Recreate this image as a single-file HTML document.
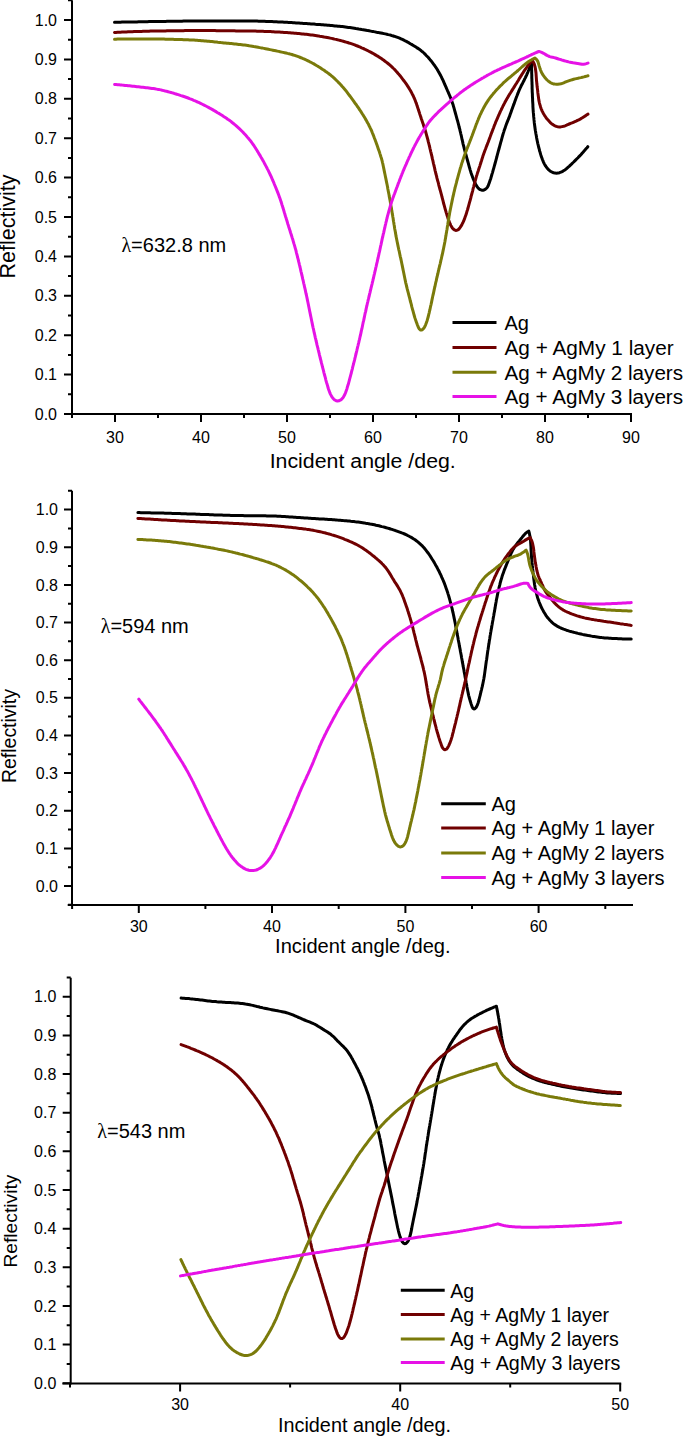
<!DOCTYPE html>
<html><head><meta charset="utf-8"><title>Reflectivity</title>
<style>
html,body{margin:0;padding:0;background:#fff;}
body{width:685px;height:1437px;overflow:hidden;}
svg{display:block;}
text{font-family:"Liberation Sans", sans-serif;fill:#000;}
</style></head>
<body>
<svg width="685" height="1437" viewBox="0 0 685 1437" font-family='"Liberation Sans", sans-serif'>
<rect width="685" height="1437" fill="#fff"/>
<path d="M72,0.3 V415" stroke="#000" stroke-width="2" fill="none"/>
<path d="M64,414 H632" stroke="#000" stroke-width="2" fill="none"/>
<path d="M64,414 H72 M68,394.3 H72 M64,374.6 H72 M68,354.9 H72 M64,335.2 H72 M68,315.5 H72 M64,295.8 H72 M68,276.1 H72 M64,256.4 H72 M68,236.7 H72 M64,217 H72 M68,197.3 H72 M64,177.6 H72 M68,157.9 H72 M64,138.2 H72 M68,118.5 H72 M64,98.8 H72 M68,79.1 H72 M64,59.4 H72 M68,39.7 H72 M64,20 H72 M68,0.3 H72 M115,414 V422 M201,414 V422 M287,414 V422 M373,414 V422 M459,414 V422 M545,414 V422 M631,414 V422 M72,414 V418 M158,414 V418 M244,414 V418 M330,414 V418 M416,414 V418 M502,414 V418 M588,414 V418" stroke="#000" stroke-width="2" fill="none"/>
<g font-size="16"><text x="57" y="419.6" text-anchor="end">0.0</text><text x="57" y="380.2" text-anchor="end">0.1</text><text x="57" y="340.8" text-anchor="end">0.2</text><text x="57" y="301.4" text-anchor="end">0.3</text><text x="57" y="262" text-anchor="end">0.4</text><text x="57" y="222.6" text-anchor="end">0.5</text><text x="57" y="183.2" text-anchor="end">0.6</text><text x="57" y="143.8" text-anchor="end">0.7</text><text x="57" y="104.4" text-anchor="end">0.8</text><text x="57" y="65" text-anchor="end">0.9</text><text x="57" y="25.6" text-anchor="end">1.0</text><text x="115" y="443.3" text-anchor="middle">30</text><text x="201" y="443.3" text-anchor="middle">40</text><text x="287" y="443.3" text-anchor="middle">50</text><text x="373" y="443.3" text-anchor="middle">60</text><text x="459" y="443.3" text-anchor="middle">70</text><text x="545" y="443.3" text-anchor="middle">80</text><text x="631" y="443.3" text-anchor="middle">90</text></g>
<text x="269.7" y="467.5" font-size="20" textLength="186.1" lengthAdjust="spacingAndGlyphs">Incident angle /deg.</text>
<text x="121.4" y="251.7" font-size="20"><tspan font-family="Liberation Serif, serif">λ</tspan>=632.8 nm</text>
<text transform="translate(14.9,226.5) rotate(-90)" x="0" y="0" font-size="21.5" text-anchor="middle" textLength="104" lengthAdjust="spacingAndGlyphs">Reflectivity</text>
<path d="M114.5,22.3L116.0,22.3L117.5,22.2L119.0,22.2L120.5,22.2L122.0,22.1L123.5,22.1L125.0,22.1L126.5,22.1L128.0,22.0L129.5,22.0L131.0,22.0L132.5,21.9L134.0,21.9L135.5,21.9L137.0,21.9L138.5,21.8L140.0,21.8L141.5,21.8L143.0,21.7L144.5,21.7L146.0,21.7L147.5,21.7L149.0,21.6L150.5,21.6L152.0,21.6L153.5,21.6L155.0,21.5L156.5,21.5L158.0,21.5L159.5,21.5L161.0,21.4L162.5,21.4L164.0,21.4L165.5,21.4L167.0,21.3L168.5,21.3L170.0,21.3L171.5,21.3L173.0,21.3L174.5,21.2L176.0,21.2L177.5,21.2L179.0,21.2L180.5,21.2L182.0,21.2L183.5,21.1L185.0,21.1L186.5,21.1L188.0,21.1L189.5,21.1L191.0,21.1L192.5,21.1L194.0,21.0L195.5,21.0L197.0,21.0L198.5,21.0L200.0,21.0L201.5,21.0L203.0,21.0L204.5,21.0L206.0,21.0L207.5,21.0L209.0,20.9L210.5,20.9L212.0,20.9L213.5,20.9L215.0,20.9L216.5,20.9L218.0,20.9L219.5,20.9L221.0,20.9L222.5,20.9L224.0,20.9L225.5,20.9L227.0,20.9L228.5,20.9L230.0,20.9L231.5,20.9L233.1,20.9L234.6,20.9L236.1,20.9L237.6,20.9L239.1,20.9L240.6,20.9L242.1,20.9L243.6,20.9L245.1,21.0L246.6,21.0L248.1,21.0L249.6,21.0L251.1,21.0L252.6,21.0L254.1,21.1L255.6,21.1L257.1,21.1L258.6,21.2L260.1,21.2L261.6,21.2L263.1,21.3L264.6,21.3L266.1,21.4L267.6,21.4L269.1,21.5L270.6,21.5L272.1,21.6L273.6,21.7L275.1,21.7L276.6,21.8L278.1,21.9L279.6,21.9L281.1,22.0L282.6,22.1L284.1,22.2L285.6,22.2L287.1,22.3L288.5,22.4L290.0,22.5L291.5,22.6L293.0,22.7L294.5,22.8L296.0,22.9L297.5,23.0L299.0,23.1L300.5,23.2L302.0,23.3L303.5,23.4L305.0,23.5L306.5,23.6L308.0,23.7L309.5,23.8L311.0,23.9L312.5,24.0L314.0,24.1L315.5,24.3L317.0,24.4L318.5,24.5L320.0,24.6L321.5,24.7L323.0,24.8L324.5,25.0L326.0,25.1L327.5,25.2L329.0,25.3L330.5,25.5L332.0,25.6L333.4,25.7L334.9,25.9L336.4,26.0L337.9,26.2L339.4,26.3L340.9,26.5L342.4,26.6L343.9,26.8L345.4,27.0L346.9,27.2L348.4,27.4L349.9,27.6L351.3,27.8L352.8,28.0L354.3,28.2L355.8,28.5L357.3,28.7L358.7,29.0L360.2,29.2L361.7,29.5L363.2,29.7L364.7,30.0L366.1,30.3L367.6,30.6L369.1,30.8L370.6,31.1L372.0,31.4L373.5,31.6L375.0,31.9L376.5,32.2L377.9,32.4L379.4,32.7L380.9,33.0L382.4,33.3L383.8,33.6L385.3,33.9L386.8,34.2L388.2,34.6L389.7,34.9L391.1,35.3L392.6,35.8L394.0,36.2L395.4,36.7L396.8,37.2L398.3,37.7L399.6,38.2L401.0,38.8L402.4,39.4L403.8,40.1L405.1,40.8L406.4,41.4L407.7,42.2L409.1,42.9L410.3,43.7L411.6,44.4L412.9,45.2L414.2,46.0L415.5,46.8L416.7,47.6L418.0,48.4L419.3,49.2L420.5,50.1L421.6,51.1L422.8,52.0L423.9,53.0L425.0,54.1L426.0,55.2L427.0,56.2L428.1,57.3L429.1,58.5L430.0,59.6L431.0,60.8L431.9,61.9L432.8,63.1L433.7,64.3L434.6,65.5L435.5,66.8L436.3,68.0L437.1,69.3L437.9,70.6L438.6,71.9L439.4,73.2L440.1,74.5L440.8,75.8L441.5,77.2L442.1,78.5L442.8,79.9L443.4,81.2L444.0,82.6L444.6,84.0L445.2,85.3L445.8,86.7L446.4,88.1L447.0,89.5L447.6,90.9L448.2,92.2L448.8,93.6L449.4,95.0L450.0,96.4L450.6,97.8L451.1,99.2L451.6,100.6L452.1,102.0L452.6,103.4L453.1,104.8L453.5,106.3L453.9,107.7L454.3,109.1L454.7,110.6L455.1,112.0L455.5,113.5L455.9,114.9L456.3,116.4L456.7,117.8L457.1,119.3L457.5,120.7L457.9,122.2L458.3,123.6L458.7,125.1L459.0,126.5L459.4,128.0L459.8,129.4L460.1,130.9L460.5,132.4L460.8,133.8L461.2,135.3L461.5,136.7L461.8,138.2L462.1,139.7L462.5,141.1L462.8,142.6L463.1,144.1L463.5,145.5L463.9,147.0L464.2,148.4L464.6,149.9L465.0,151.3L465.4,152.8L465.8,154.2L466.2,155.7L466.6,157.1L467.0,158.6L467.4,160.0L467.8,161.5L468.2,162.9L468.6,164.4L469.0,165.8L469.4,167.3L469.8,168.7L470.2,170.1L470.7,171.6L471.1,173.0L471.6,174.4L472.1,175.8L472.6,177.2L473.1,178.6L473.7,180.0L474.3,181.4L474.9,182.8L475.6,184.1L476.3,185.4L477.1,186.7L478.0,187.9L479.1,188.9L480.3,189.7L481.7,190.2L483.1,190.2L484.5,189.8L485.7,189.0L486.8,188.0L487.6,186.8L488.3,185.5L488.8,184.1L489.3,182.7L489.8,181.2L490.3,179.8L490.8,178.4L491.2,176.9L491.6,175.5L492.0,174.1L492.5,172.6L492.9,171.2L493.3,169.7L493.7,168.3L494.1,166.9L494.5,165.4L494.9,164.0L495.3,162.5L495.7,161.1L496.1,159.6L496.5,158.2L496.9,156.7L497.2,155.3L497.6,153.8L498.0,152.4L498.4,150.9L498.8,149.5L499.2,148.0L499.6,146.6L500.0,145.1L500.4,143.7L500.8,142.2L501.2,140.8L501.6,139.3L502.0,137.9L502.4,136.4L502.8,135.0L503.2,133.6L503.7,132.1L504.1,130.7L504.6,129.3L505.1,127.9L505.6,126.4L506.1,125.0L506.6,123.6L507.2,122.2L507.7,120.8L508.3,119.4L508.8,118.1L509.4,116.7L509.9,115.2L510.4,113.8L510.9,112.4L511.4,111.0L511.9,109.6L512.4,108.2L512.9,106.8L513.4,105.4L514.0,103.9L514.5,102.5L515.0,101.1L515.5,99.7L516.0,98.3L516.5,96.9L517.1,95.5L517.6,94.1L518.2,92.7L518.7,91.3L519.3,89.9L519.9,88.6L520.6,87.2L521.2,85.8L521.9,84.5L522.6,83.2L523.3,81.8L524.0,80.5L524.6,79.2L525.3,77.8L525.9,76.5L526.6,75.1L527.2,73.7L527.8,72.3L528.3,71.0L528.9,69.6L529.4,68.2L530.0,66.8L530.5,65.4L531.1,64.0L531.5,62.8L531.5,64.3L531.6,65.8L531.6,67.3L531.6,68.8L531.7,70.3L531.7,71.8L531.7,73.3L531.8,74.8L531.8,76.3L531.8,77.8L531.9,79.3L531.9,80.8L532.0,82.3L532.0,83.8L532.1,85.3L532.1,86.8L532.1,88.4L532.2,89.9L532.2,91.4L532.3,92.9L532.4,94.4L532.4,95.9L532.5,97.4L532.6,98.9L532.6,100.4L532.7,101.9L532.8,103.4L532.9,104.9L532.9,106.4L533.0,107.9L533.1,109.4L533.2,110.9L533.3,112.4L533.5,113.9L533.6,115.4L533.7,116.9L533.9,118.4L534.0,119.9L534.2,121.4L534.3,122.9L534.5,124.3L534.7,125.8L534.9,127.3L535.1,128.8L535.3,130.3L535.6,131.8L535.8,133.3L536.1,134.8L536.4,136.2L536.6,137.7L536.9,139.2L537.2,140.7L537.5,142.1L537.8,143.6L538.2,145.1L538.5,146.5L538.9,148.0L539.3,149.4L539.6,150.9L540.1,152.3L540.5,153.8L540.9,155.2L541.4,156.7L541.9,158.1L542.4,159.5L543.0,160.9L543.6,162.3L544.2,163.6L544.9,164.9L545.7,166.2L546.6,167.4L547.5,168.6L548.5,169.7L549.7,170.7L550.9,171.5L552.2,172.2L553.6,172.8L555.0,173.1L556.5,173.2L558.0,173.1L559.5,172.7L560.9,172.2L562.2,171.6L563.5,170.8L564.8,170.0L566.0,169.1L567.1,168.1L568.2,167.1L569.4,166.1L570.4,165.1L571.5,164.1L572.6,163.0L573.7,162.0L574.8,160.9L575.8,159.9L576.9,158.8L578.0,157.7L579.0,156.6L580.0,155.6L581.1,154.5L582.1,153.3L583.1,152.2L584.1,151.1L585.0,149.9L586.0,148.8L587.0,147.7L587.8,146.7" stroke="#000000" stroke-width="3.0" fill="none" stroke-linejoin="round" stroke-linecap="round"/>
<path d="M114.5,32.5L116.0,32.4L117.5,32.3L119.0,32.3L120.5,32.2L122.0,32.1L123.5,32.0L125.0,32.0L126.5,31.9L128.0,31.8L129.5,31.8L131.0,31.7L132.5,31.7L134.0,31.6L135.5,31.5L137.0,31.5L138.5,31.4L140.0,31.4L141.5,31.4L143.0,31.3L144.5,31.3L146.0,31.2L147.5,31.2L149.0,31.2L150.5,31.1L152.0,31.1L153.5,31.1L155.0,31.0L156.5,31.0L158.0,31.0L159.5,30.9L161.0,30.9L162.5,30.9L164.0,30.9L165.5,30.9L167.0,30.8L168.5,30.8L170.0,30.8L171.5,30.8L173.0,30.8L174.5,30.7L176.0,30.7L177.5,30.7L179.0,30.7L180.5,30.7L182.0,30.7L183.5,30.7L185.0,30.6L186.5,30.6L188.0,30.6L189.5,30.6L191.0,30.6L192.5,30.6L194.0,30.6L195.5,30.6L197.0,30.6L198.5,30.6L200.0,30.6L201.5,30.6L203.0,30.6L204.5,30.6L206.0,30.6L207.5,30.6L209.0,30.6L210.5,30.6L212.0,30.6L213.5,30.6L215.0,30.6L216.5,30.7L218.0,30.7L219.5,30.7L221.0,30.7L222.5,30.7L224.0,30.7L225.5,30.7L227.0,30.8L228.5,30.8L230.0,30.8L231.5,30.8L233.0,30.8L234.5,30.8L236.0,30.9L237.5,30.9L239.0,30.9L240.5,30.9L242.0,30.9L243.5,30.9L245.0,31.0L246.5,31.0L248.0,31.0L249.5,31.0L251.0,31.1L252.5,31.1L254.0,31.1L255.5,31.1L257.0,31.2L258.5,31.2L260.0,31.2L261.5,31.3L263.0,31.3L264.5,31.4L266.0,31.4L267.5,31.5L269.0,31.6L270.5,31.6L272.0,31.7L273.5,31.8L275.0,31.9L276.5,31.9L278.0,32.0L279.5,32.1L281.0,32.2L282.5,32.3L284.0,32.4L285.5,32.5L287.0,32.6L288.5,32.7L290.0,32.8L291.5,33.0L293.0,33.1L294.5,33.2L296.0,33.3L297.5,33.5L299.0,33.6L300.5,33.7L302.0,33.9L303.4,34.0L304.9,34.2L306.4,34.3L307.9,34.5L309.4,34.7L310.9,34.9L312.4,35.1L313.9,35.3L315.4,35.5L316.8,35.7L318.3,35.9L319.8,36.2L321.3,36.4L322.8,36.7L324.2,37.0L325.7,37.2L327.2,37.5L328.7,37.8L330.1,38.1L331.6,38.4L333.1,38.7L334.5,39.1L336.0,39.4L337.5,39.8L338.9,40.1L340.4,40.5L341.8,40.9L343.3,41.3L344.7,41.7L346.1,42.1L347.6,42.5L349.0,43.0L350.4,43.4L351.9,43.9L353.3,44.4L354.7,44.9L356.1,45.5L357.5,46.0L358.9,46.6L360.3,47.2L361.6,47.8L363.0,48.4L364.4,49.0L365.7,49.7L367.1,50.3L368.4,51.0L369.7,51.7L371.1,52.4L372.4,53.1L373.7,53.8L375.0,54.6L376.3,55.4L377.6,56.1L378.8,56.9L380.1,57.7L381.4,58.6L382.6,59.4L383.8,60.3L385.0,61.2L386.2,62.1L387.4,63.0L388.6,64.0L389.7,64.9L390.8,65.9L391.9,66.9L393.0,68.0L394.1,69.0L395.1,70.1L396.1,71.2L397.1,72.3L398.1,73.5L399.1,74.6L400.1,75.8L401.0,76.9L401.9,78.1L402.8,79.3L403.7,80.5L404.6,81.7L405.5,82.9L406.4,84.2L407.2,85.4L408.0,86.7L408.8,87.9L409.6,89.2L410.4,90.5L411.1,91.8L411.8,93.1L412.5,94.5L413.2,95.8L413.8,97.2L414.4,98.5L415.0,99.9L415.5,101.3L416.0,102.7L416.6,104.1L417.0,105.6L417.5,107.0L418.0,108.4L418.4,109.8L418.9,111.3L419.4,112.7L419.8,114.1L420.3,115.6L420.8,117.0L421.2,118.4L421.7,119.8L422.2,121.2L422.7,122.7L423.2,124.1L423.6,125.5L424.1,126.9L424.6,128.4L425.0,129.8L425.5,131.2L425.9,132.7L426.3,134.1L426.7,135.6L427.1,137.0L427.5,138.5L427.9,139.9L428.2,141.4L428.6,142.8L429.0,144.3L429.3,145.7L429.7,147.2L430.0,148.6L430.4,150.1L430.7,151.6L431.1,153.0L431.4,154.5L431.8,155.9L432.1,157.4L432.4,158.9L432.8,160.3L433.1,161.8L433.4,163.3L433.8,164.7L434.1,166.2L434.5,167.6L434.8,169.1L435.1,170.6L435.5,172.0L435.8,173.5L436.2,174.9L436.6,176.4L436.9,177.9L437.3,179.3L437.7,180.8L438.1,182.2L438.5,183.7L438.8,185.1L439.2,186.6L439.6,188.0L440.0,189.5L440.4,190.9L440.8,192.4L441.2,193.8L441.6,195.3L441.9,196.7L442.3,198.2L442.7,199.6L443.1,201.1L443.4,202.5L443.8,204.0L444.2,205.4L444.6,206.9L445.0,208.3L445.4,209.8L445.8,211.2L446.2,212.6L446.7,214.1L447.1,215.5L447.6,216.9L448.0,218.4L448.5,219.8L449.0,221.2L449.6,222.6L450.2,224.0L450.8,225.3L451.5,226.7L452.3,227.9L453.3,229.0L454.4,229.9L455.7,230.4L457.0,230.3L458.3,229.6L459.3,228.6L460.2,227.4L461.0,226.2L461.8,224.9L462.4,223.5L463.1,222.2L463.7,220.8L464.3,219.4L464.8,218.0L465.3,216.6L465.8,215.2L466.3,213.8L466.7,212.3L467.1,210.9L467.6,209.5L468.0,208.0L468.4,206.6L468.8,205.1L469.2,203.7L469.6,202.2L470.0,200.8L470.4,199.3L470.8,197.9L471.1,196.4L471.5,195.0L471.9,193.5L472.3,192.1L472.7,190.6L473.0,189.2L473.4,187.7L473.8,186.3L474.1,184.8L474.5,183.4L474.9,181.9L475.3,180.5L475.7,179.0L476.1,177.6L476.5,176.1L477.0,174.7L477.4,173.3L477.9,171.8L478.4,170.4L478.8,169.0L479.3,167.6L479.8,166.1L480.2,164.7L480.7,163.3L481.1,161.8L481.6,160.4L482.0,159.0L482.5,157.6L482.9,156.1L483.4,154.7L483.9,153.3L484.4,151.9L484.9,150.5L485.5,149.1L486.0,147.7L486.5,146.3L487.1,144.9L487.6,143.5L488.2,142.1L488.7,140.7L489.2,139.3L489.8,137.9L490.3,136.4L490.8,135.0L491.3,133.6L491.9,132.2L492.4,130.8L492.9,129.4L493.5,128.0L494.0,126.6L494.5,125.2L495.1,123.8L495.6,122.4L496.2,121.0L496.8,119.7L497.4,118.3L498.0,116.9L498.6,115.5L499.2,114.2L499.8,112.8L500.4,111.4L501.1,110.1L501.7,108.7L502.4,107.4L503.0,106.0L503.7,104.7L504.4,103.4L505.1,102.0L505.8,100.7L506.6,99.4L507.3,98.1L508.1,96.8L508.8,95.5L509.6,94.2L510.4,93.0L511.2,91.7L512.0,90.4L512.8,89.1L513.6,87.9L514.4,86.6L515.2,85.3L516.0,84.0L516.8,82.8L517.6,81.5L518.4,80.2L519.1,78.9L519.9,77.7L520.7,76.4L521.5,75.1L522.3,73.8L523.1,72.6L523.9,71.3L524.7,70.1L525.6,68.8L526.5,67.6L527.3,66.4L528.2,65.2L529.2,64.0L530.1,62.8L531.0,61.7L532.0,60.5L532.3,60.1L533.0,61.4L533.7,62.8L534.3,64.2L534.7,65.6L535.1,67.0L535.4,68.5L535.6,70.0L535.8,71.5L536.0,73.0L536.1,74.5L536.2,76.0L536.3,77.5L536.4,79.0L536.5,80.5L536.7,82.0L536.8,83.5L537.0,85.0L537.1,86.5L537.3,87.9L537.5,89.4L537.7,90.9L537.8,92.4L538.0,93.9L538.2,95.4L538.4,96.9L538.6,98.4L538.8,99.9L539.1,101.4L539.4,102.8L539.8,104.3L540.2,105.7L540.6,107.2L541.1,108.6L541.7,110.0L542.3,111.3L543.0,112.7L543.7,114.0L544.5,115.3L545.3,116.5L546.2,117.8L547.1,119.0L548.1,120.1L549.1,121.2L550.1,122.3L551.2,123.3L552.4,124.3L553.6,125.1L554.9,125.8L556.3,126.4L557.8,126.8L559.2,126.9L560.7,126.9L562.2,126.6L563.6,126.3L565.1,125.8L566.5,125.2L567.8,124.6L569.2,124.0L570.6,123.4L572.0,122.9L573.4,122.3L574.8,121.7L576.1,121.1L577.5,120.4L578.8,119.8L580.2,119.1L581.5,118.3L582.8,117.5L584.0,116.7L585.3,115.9L586.5,115.1L587.8,114.2L588.0,114.1" stroke="#700000" stroke-width="3.0" fill="none" stroke-linejoin="round" stroke-linecap="round"/>
<path d="M114.5,39.2L116.0,39.2L117.5,39.1L119.0,39.1L120.5,39.1L122.0,39.1L123.5,39.0L125.0,39.0L126.5,39.0L128.0,39.0L129.5,38.9L131.0,38.9L132.5,38.9L134.0,38.9L135.5,38.9L137.0,38.9L138.5,38.9L140.0,38.9L141.5,38.9L143.0,38.9L144.5,38.9L146.0,38.9L147.5,38.9L149.0,38.9L150.5,39.0L152.0,39.0L153.5,39.0L155.0,39.0L156.5,39.0L158.0,39.0L159.5,39.1L161.0,39.1L162.5,39.1L164.0,39.1L165.5,39.2L167.0,39.2L168.5,39.2L170.0,39.3L171.5,39.3L173.0,39.3L174.5,39.4L176.0,39.4L177.5,39.5L179.0,39.5L180.5,39.6L182.0,39.6L183.5,39.7L185.0,39.7L186.5,39.8L188.0,39.8L189.5,39.9L191.0,40.0L192.5,40.1L194.0,40.1L195.5,40.2L197.0,40.3L198.5,40.4L200.0,40.5L201.5,40.7L203.0,40.8L204.5,40.9L206.0,41.0L207.5,41.2L209.0,41.3L210.5,41.5L212.0,41.6L213.5,41.8L214.9,42.0L216.4,42.1L217.9,42.3L219.4,42.4L220.9,42.6L222.4,42.7L223.9,42.9L225.4,43.0L226.9,43.2L228.4,43.3L229.9,43.5L231.4,43.6L232.9,43.7L234.4,43.9L235.9,44.0L237.3,44.2L238.8,44.4L240.3,44.5L241.8,44.7L243.3,44.9L244.8,45.1L246.3,45.3L247.8,45.5L249.2,45.8L250.7,46.0L252.2,46.2L253.7,46.5L255.2,46.7L256.6,47.0L258.1,47.3L259.6,47.6L261.1,47.9L262.5,48.1L264.0,48.4L265.5,48.7L267.0,49.0L268.4,49.3L269.9,49.6L271.4,49.9L272.8,50.2L274.3,50.5L275.8,50.8L277.2,51.1L278.7,51.4L280.2,51.8L281.7,52.1L283.1,52.4L284.6,52.7L286.0,53.0L287.5,53.4L289.0,53.7L290.4,54.1L291.9,54.5L293.3,55.0L294.7,55.4L296.1,55.9L297.6,56.4L299.0,56.9L300.4,57.5L301.8,58.0L303.1,58.6L304.5,59.2L305.9,59.8L307.2,60.5L308.6,61.1L309.9,61.8L311.3,62.5L312.6,63.2L313.9,63.9L315.2,64.7L316.5,65.5L317.8,66.2L319.0,67.0L320.3,67.8L321.6,68.7L322.8,69.5L324.1,70.3L325.3,71.2L326.5,72.0L327.7,72.9L328.9,73.8L330.1,74.7L331.3,75.7L332.5,76.6L333.6,77.6L334.7,78.6L335.8,79.7L336.8,80.7L337.9,81.8L338.9,82.9L340.0,83.9L341.0,85.0L342.0,86.2L343.0,87.3L344.0,88.4L344.9,89.6L345.9,90.7L346.8,91.9L347.7,93.1L348.6,94.3L349.5,95.5L350.4,96.7L351.3,97.9L352.2,99.1L353.1,100.3L354.0,101.6L354.8,102.8L355.7,104.0L356.6,105.2L357.4,106.5L358.3,107.7L359.1,108.9L359.9,110.2L360.8,111.4L361.6,112.7L362.4,114.0L363.2,115.2L364.0,116.5L364.8,117.8L365.5,119.1L366.3,120.4L367.0,121.7L367.7,123.0L368.5,124.3L369.1,125.7L369.8,127.0L370.4,128.4L371.1,129.7L371.7,131.1L372.2,132.5L372.8,133.9L373.4,135.3L373.9,136.7L374.4,138.1L375.0,139.5L375.5,140.9L376.0,142.3L376.5,143.7L377.0,145.1L377.5,146.5L378.0,148.0L378.5,149.4L379.0,150.8L379.5,152.2L379.9,153.6L380.4,155.1L380.8,156.5L381.3,157.9L381.7,159.4L382.1,160.8L382.4,162.3L382.8,163.7L383.1,165.2L383.4,166.7L383.7,168.1L384.0,169.6L384.3,171.1L384.6,172.6L384.9,174.0L385.2,175.5L385.5,177.0L385.8,178.4L386.1,179.9L386.4,181.4L386.7,182.9L387.0,184.3L387.3,185.8L387.6,187.3L387.8,188.8L388.1,190.2L388.4,191.7L388.7,193.2L389.0,194.6L389.2,196.1L389.5,197.6L389.8,199.1L390.1,200.6L390.3,202.0L390.6,203.5L390.8,205.0L391.1,206.5L391.4,207.9L391.6,209.4L391.8,210.9L392.1,212.4L392.3,213.9L392.6,215.3L392.8,216.8L393.1,218.3L393.3,219.8L393.5,221.3L393.8,222.8L394.0,224.2L394.3,225.7L394.5,227.2L394.7,228.7L395.0,230.2L395.3,231.6L395.5,233.1L395.8,234.6L396.0,236.1L396.3,237.5L396.6,239.0L396.9,240.5L397.2,242.0L397.5,243.4L397.8,244.9L398.1,246.4L398.4,247.8L398.7,249.3L399.1,250.8L399.4,252.2L399.7,253.7L400.0,255.2L400.3,256.6L400.7,258.1L401.0,259.6L401.3,261.0L401.6,262.5L401.9,264.0L402.2,265.4L402.5,266.9L402.8,268.4L403.1,269.9L403.4,271.3L403.7,272.8L404.0,274.3L404.3,275.7L404.6,277.2L404.9,278.7L405.2,280.1L405.5,281.6L405.8,283.1L406.2,284.5L406.5,286.0L406.9,287.5L407.2,288.9L407.6,290.4L408.0,291.8L408.4,293.3L408.7,294.7L409.1,296.2L409.5,297.6L409.9,299.1L410.2,300.5L410.6,302.0L411.0,303.4L411.4,304.9L411.7,306.4L412.1,307.8L412.5,309.3L412.9,310.7L413.3,312.2L413.7,313.6L414.1,315.0L414.5,316.5L414.9,317.9L415.4,319.4L415.9,320.8L416.4,322.2L416.9,323.6L417.4,325.0L418.0,326.4L418.6,327.8L419.3,329.0L420.3,329.9L421.4,330.1L422.5,329.6L423.5,328.5L424.4,327.3L425.1,326.0L425.7,324.6L426.2,323.2L426.7,321.8L427.2,320.4L427.6,318.9L428.0,317.5L428.4,316.0L428.7,314.6L429.1,313.1L429.4,311.6L429.8,310.2L430.1,308.7L430.4,307.3L430.7,305.8L431.1,304.3L431.4,302.9L431.7,301.4L432.0,299.9L432.3,298.4L432.6,297.0L432.9,295.5L433.3,294.0L433.6,292.6L433.9,291.1L434.2,289.6L434.5,288.2L434.9,286.7L435.2,285.2L435.5,283.8L435.8,282.3L436.2,280.9L436.5,279.4L436.8,277.9L437.2,276.5L437.5,275.0L437.9,273.5L438.2,272.1L438.5,270.6L438.9,269.2L439.2,267.7L439.6,266.2L439.9,264.8L440.3,263.3L440.6,261.9L440.9,260.4L441.3,258.9L441.6,257.5L441.9,256.0L442.3,254.5L442.6,253.1L442.9,251.6L443.2,250.1L443.5,248.7L443.8,247.2L444.1,245.7L444.4,244.3L444.7,242.8L445.0,241.3L445.2,239.8L445.5,238.4L445.7,236.9L446.0,235.4L446.2,233.9L446.5,232.4L446.7,230.9L447.0,229.5L447.2,228.0L447.4,226.5L447.7,225.0L447.9,223.5L448.1,222.1L448.4,220.6L448.6,219.1L448.9,217.6L449.1,216.1L449.4,214.7L449.6,213.2L449.9,211.7L450.2,210.2L450.5,208.8L450.8,207.3L451.1,205.8L451.4,204.3L451.7,202.9L452.0,201.4L452.3,199.9L452.6,198.5L452.9,197.0L453.3,195.5L453.6,194.1L453.9,192.6L454.3,191.2L454.6,189.7L455.0,188.2L455.3,186.8L455.7,185.3L456.1,183.9L456.5,182.4L456.8,181.0L457.2,179.5L457.6,178.1L458.0,176.6L458.4,175.2L458.8,173.7L459.2,172.3L459.6,170.8L460.0,169.4L460.4,167.9L460.9,166.5L461.3,165.1L461.7,163.6L462.2,162.2L462.7,160.8L463.1,159.4L463.6,157.9L464.1,156.5L464.6,155.1L465.1,153.7L465.6,152.3L466.2,150.9L466.7,149.5L467.3,148.1L467.8,146.7L468.4,145.3L468.9,143.9L469.5,142.5L470.0,141.1L470.6,139.7L471.1,138.3L471.6,136.9L472.2,135.5L472.7,134.1L473.2,132.7L473.7,131.3L474.2,129.9L474.8,128.5L475.3,127.1L475.8,125.6L476.3,124.2L476.9,122.8L477.4,121.4L478.0,120.1L478.5,118.7L479.1,117.3L479.7,115.9L480.3,114.5L481.0,113.2L481.6,111.8L482.3,110.5L483.0,109.1L483.7,107.8L484.4,106.5L485.1,105.2L485.9,103.9L486.7,102.6L487.5,101.4L488.3,100.1L489.2,98.9L490.1,97.7L491.0,96.5L491.9,95.3L492.9,94.2L493.8,93.0L494.8,91.9L495.8,90.7L496.8,89.6L497.9,88.5L498.9,87.4L499.9,86.4L501.0,85.3L502.1,84.3L503.1,83.2L504.2,82.2L505.4,81.2L506.5,80.2L507.6,79.2L508.7,78.2L509.9,77.3L511.0,76.3L512.2,75.3L513.4,74.4L514.5,73.4L515.7,72.5L516.8,71.5L518.0,70.5L519.1,69.5L520.2,68.5L521.3,67.5L522.4,66.5L523.6,65.5L524.7,64.5L525.8,63.6L527.0,62.7L528.3,61.8L529.5,61.0L530.8,60.2L532.1,59.5L533.4,58.8L534.8,58.1L535.0,58.0L536.1,59.0L537.0,60.1L537.8,61.4L538.3,62.8L538.7,64.3L539.1,65.7L539.6,67.2L540.0,68.6L540.5,70.0L541.1,71.4L541.7,72.8L542.5,74.1L543.3,75.4L544.2,76.6L545.1,77.8L546.1,78.9L547.1,80.0L548.2,81.0L549.4,81.9L550.7,82.7L552.0,83.4L553.4,83.9L554.9,84.1L556.4,84.2L557.9,84.2L559.4,84.1L560.8,83.8L562.3,83.3L563.7,82.8L565.1,82.2L566.5,81.6L567.9,81.1L569.3,80.6L570.7,80.1L572.2,79.7L573.6,79.3L575.1,78.9L576.5,78.6L578.0,78.3L579.5,77.9L580.9,77.6L582.4,77.2L583.9,76.9L585.3,76.5L586.8,76.1L588.0,75.8" stroke="#7a7a0a" stroke-width="3.0" fill="none" stroke-linejoin="round" stroke-linecap="round"/>
<path d="M114.6,84.5L116.1,84.6L117.6,84.7L119.1,84.8L120.6,84.9L122.1,85.1L123.6,85.2L125.1,85.4L126.6,85.5L128.1,85.7L129.5,85.8L131.0,86.0L132.5,86.2L134.0,86.3L135.5,86.5L137.0,86.7L138.5,86.8L140.0,87.0L141.5,87.2L143.0,87.3L144.5,87.5L146.0,87.7L147.4,87.8L148.9,88.0L150.4,88.2L151.9,88.4L153.4,88.6L154.9,88.8L156.4,89.1L157.8,89.4L159.3,89.6L160.8,89.9L162.2,90.3L163.7,90.6L165.2,91.0L166.6,91.3L168.1,91.7L169.5,92.1L171.0,92.5L172.4,92.9L173.9,93.3L175.3,93.8L176.7,94.2L178.2,94.6L179.6,95.1L181.0,95.6L182.4,96.0L183.9,96.5L185.3,97.0L186.7,97.5L188.1,98.0L189.5,98.6L190.9,99.1L192.3,99.7L193.7,100.3L195.1,100.8L196.4,101.5L197.8,102.1L199.2,102.7L200.5,103.3L201.9,104.0L203.2,104.7L204.5,105.3L205.9,106.0L207.2,106.7L208.5,107.4L209.8,108.2L211.2,108.9L212.5,109.6L213.8,110.4L215.1,111.1L216.4,111.9L217.6,112.7L218.9,113.4L220.2,114.2L221.5,115.0L222.7,115.8L224.0,116.7L225.3,117.5L226.5,118.3L227.7,119.2L229.0,120.0L230.2,120.9L231.4,121.8L232.5,122.8L233.7,123.7L234.8,124.7L236.0,125.7L237.1,126.7L238.2,127.7L239.3,128.7L240.4,129.7L241.5,130.8L242.5,131.8L243.6,132.9L244.6,134.0L245.6,135.1L246.6,136.2L247.6,137.4L248.6,138.5L249.5,139.7L250.5,140.8L251.4,142.0L252.3,143.3L253.1,144.5L254.0,145.7L254.8,147.0L255.6,148.2L256.4,149.5L257.2,150.8L258.0,152.1L258.7,153.4L259.5,154.6L260.3,155.9L261.0,157.2L261.8,158.5L262.5,159.8L263.3,161.1L264.0,162.4L264.7,163.8L265.4,165.1L266.1,166.4L266.8,167.7L267.5,169.1L268.2,170.4L268.9,171.8L269.5,173.1L270.1,174.5L270.8,175.8L271.4,177.2L272.0,178.6L272.6,180.0L273.2,181.3L273.8,182.7L274.3,184.1L274.9,185.5L275.5,186.9L276.1,188.3L276.6,189.7L277.2,191.1L277.7,192.4L278.3,193.9L278.8,195.3L279.3,196.7L279.8,198.1L280.3,199.5L280.8,200.9L281.2,202.3L281.7,203.8L282.1,205.2L282.6,206.6L283.0,208.1L283.5,209.5L283.9,210.9L284.3,212.4L284.8,213.8L285.2,215.3L285.6,216.7L286.1,218.1L286.5,219.6L287.0,221.0L287.4,222.4L287.8,223.9L288.3,225.3L288.7,226.7L289.2,228.2L289.6,229.6L290.1,231.0L290.5,232.5L291.0,233.9L291.4,235.3L291.9,236.8L292.3,238.2L292.8,239.6L293.2,241.1L293.6,242.5L294.0,243.9L294.5,245.4L294.9,246.8L295.3,248.3L295.7,249.7L296.1,251.2L296.4,252.6L296.8,254.1L297.2,255.5L297.5,257.0L297.9,258.4L298.3,259.9L298.6,261.4L299.0,262.8L299.3,264.3L299.7,265.7L300.0,267.2L300.4,268.7L300.7,270.1L301.0,271.6L301.4,273.0L301.7,274.5L302.1,276.0L302.4,277.4L302.7,278.9L303.1,280.4L303.4,281.8L303.7,283.3L304.1,284.7L304.4,286.2L304.7,287.7L305.1,289.1L305.4,290.6L305.7,292.1L306.0,293.5L306.4,295.0L306.7,296.5L307.0,297.9L307.3,299.4L307.6,300.9L307.9,302.3L308.2,303.8L308.5,305.3L308.8,306.7L309.1,308.2L309.4,309.7L309.7,311.2L310.0,312.6L310.3,314.1L310.6,315.6L310.9,317.0L311.2,318.5L311.5,320.0L311.8,321.5L312.1,322.9L312.4,324.4L312.7,325.9L313.0,327.3L313.4,328.8L313.7,330.3L314.0,331.7L314.3,333.2L314.7,334.7L315.0,336.1L315.3,337.6L315.7,339.0L316.0,340.5L316.4,342.0L316.7,343.4L317.0,344.9L317.4,346.4L317.8,347.8L318.1,349.3L318.5,350.7L318.8,352.2L319.2,353.6L319.5,355.1L319.9,356.6L320.2,358.0L320.6,359.5L321.0,360.9L321.3,362.4L321.7,363.8L322.1,365.3L322.4,366.7L322.8,368.2L323.2,369.7L323.6,371.1L323.9,372.6L324.3,374.0L324.7,375.5L325.1,376.9L325.5,378.4L325.8,379.8L326.2,381.3L326.6,382.7L327.1,384.2L327.5,385.6L327.9,387.0L328.3,388.5L328.8,389.9L329.3,391.3L329.8,392.7L330.4,394.1L331.1,395.4L331.8,396.7L332.7,398.0L333.7,399.1L334.8,400.0L336.1,400.7L337.5,401.0L338.9,400.8L340.2,400.2L341.4,399.4L342.5,398.3L343.4,397.1L344.1,395.8L344.8,394.5L345.4,393.1L345.9,391.7L346.4,390.3L346.9,388.9L347.3,387.4L347.7,386.0L348.2,384.6L348.6,383.1L349.0,381.7L349.4,380.2L349.7,378.8L350.1,377.3L350.5,375.9L350.9,374.4L351.3,373.0L351.6,371.5L352.0,370.1L352.4,368.6L352.7,367.1L353.1,365.7L353.5,364.2L353.8,362.8L354.2,361.3L354.6,359.9L354.9,358.4L355.3,356.9L355.6,355.5L356.0,354.0L356.3,352.6L356.7,351.1L357.0,349.7L357.4,348.2L357.7,346.7L358.1,345.3L358.4,343.8L358.8,342.4L359.1,340.9L359.5,339.4L359.8,338.0L360.1,336.5L360.5,335.0L360.8,333.6L361.1,332.1L361.4,330.6L361.8,329.2L362.1,327.7L362.4,326.2L362.7,324.8L363.0,323.3L363.3,321.8L363.7,320.4L364.0,318.9L364.3,317.4L364.6,316.0L364.9,314.5L365.2,313.0L365.6,311.6L365.9,310.1L366.2,308.6L366.5,307.2L366.9,305.7L367.2,304.3L367.5,302.8L367.9,301.3L368.2,299.9L368.6,298.4L368.9,297.0L369.3,295.5L369.6,294.0L370.0,292.6L370.3,291.1L370.7,289.7L371.0,288.2L371.4,286.7L371.7,285.3L372.1,283.8L372.4,282.4L372.8,280.9L373.1,279.4L373.5,278.0L373.8,276.5L374.1,275.1L374.5,273.6L374.8,272.1L375.2,270.7L375.5,269.2L375.8,267.7L376.2,266.3L376.5,264.8L376.8,263.4L377.2,261.9L377.5,260.4L377.8,259.0L378.2,257.5L378.5,256.0L378.8,254.6L379.1,253.1L379.5,251.6L379.8,250.2L380.1,248.7L380.4,247.2L380.7,245.8L381.1,244.3L381.4,242.8L381.7,241.4L382.0,239.9L382.3,238.4L382.7,237.0L383.0,235.5L383.3,234.0L383.7,232.6L384.0,231.1L384.3,229.7L384.7,228.2L385.0,226.7L385.3,225.3L385.7,223.8L386.0,222.3L386.4,220.9L386.7,219.4L387.1,218.0L387.4,216.5L387.8,215.1L388.2,213.6L388.6,212.2L389.0,210.7L389.4,209.3L389.8,207.8L390.2,206.4L390.6,204.9L391.1,203.5L391.5,202.1L392.0,200.7L392.5,199.2L393.0,197.8L393.5,196.4L394.0,195.0L394.6,193.6L395.1,192.2L395.6,190.8L396.1,189.4L396.6,188.0L397.2,186.6L397.7,185.2L398.2,183.7L398.8,182.3L399.3,180.9L399.8,179.5L400.4,178.1L400.9,176.7L401.5,175.3L402.0,173.9L402.6,172.6L403.1,171.2L403.7,169.8L404.3,168.4L404.9,167.0L405.5,165.6L406.1,164.3L406.7,162.9L407.3,161.5L407.9,160.1L408.5,158.8L409.1,157.4L409.8,156.1L410.4,154.7L411.0,153.3L411.7,152.0L412.3,150.6L413.0,149.3L413.6,147.9L414.3,146.6L415.0,145.2L415.7,143.9L416.4,142.6L417.1,141.3L417.8,139.9L418.6,138.6L419.3,137.3L420.1,136.0L420.8,134.8L421.6,133.5L422.4,132.2L423.2,130.9L424.0,129.7L424.8,128.4L425.6,127.1L426.4,125.9L427.3,124.6L428.1,123.4L429.0,122.2L429.9,121.0L430.9,119.8L431.9,118.7L432.9,117.6L433.9,116.5L435.0,115.4L436.0,114.4L437.1,113.3L438.1,112.2L439.2,111.2L440.3,110.2L441.4,109.1L442.5,108.1L443.6,107.1L444.7,106.1L445.8,105.1L446.9,104.1L448.1,103.1L449.2,102.1L450.3,101.1L451.5,100.1L452.6,99.1L453.7,98.2L454.9,97.2L456.1,96.3L457.2,95.3L458.4,94.4L459.6,93.4L460.7,92.5L461.9,91.6L463.1,90.7L464.3,89.8L465.6,88.9L466.8,88.1L468.0,87.2L469.3,86.4L470.5,85.6L471.8,84.7L473.1,83.9L474.3,83.1L475.6,82.3L476.9,81.5L478.1,80.8L479.4,80.0L480.7,79.2L482.0,78.4L483.3,77.7L484.6,76.9L485.9,76.2L487.2,75.4L488.5,74.7L489.8,74.0L491.2,73.3L492.5,72.6L493.8,71.9L495.2,71.2L496.5,70.6L497.9,69.9L499.2,69.3L500.6,68.6L501.9,68.0L503.3,67.4L504.7,66.8L506.1,66.2L507.4,65.6L508.8,65.0L510.2,64.4L511.6,63.8L512.9,63.2L514.3,62.6L515.7,62.0L517.1,61.4L518.4,60.8L519.8,60.1L521.2,59.5L522.5,58.9L523.9,58.3L525.3,57.7L526.6,57.0L528.0,56.4L529.3,55.7L530.7,55.1L532.0,54.4L533.4,53.8L534.8,53.2L536.1,52.6L537.5,52.0L538.9,51.4L540.3,51.9L541.7,52.4L543.1,53.1L544.4,53.8L545.7,54.6L547.0,55.4L548.3,56.0L549.7,56.6L551.2,57.0L552.7,57.3L554.1,57.6L555.6,58.0L557.0,58.5L558.5,59.0L559.9,59.4L561.3,59.8L562.8,60.3L564.2,60.7L565.7,61.1L567.2,61.5L568.6,61.9L570.1,62.2L571.6,62.5L573.1,62.8L574.6,63.0L576.1,63.2L577.5,63.4L579.0,63.7L580.5,64.0L582.0,64.3L583.4,64.3L584.9,64.0L586.3,63.6L587.8,63.1L588.0,63.0" stroke="#e612e6" stroke-width="3.0" fill="none" stroke-linejoin="round" stroke-linecap="round"/>
<path d="M452.5,322.5 H496.5" stroke="#000000" stroke-width="3.0"/>
<text x="504.5" y="329.9" font-size="20">Ag</text>
<path d="M452.5,347.5 H496.5" stroke="#700000" stroke-width="3.0"/>
<text x="504.5" y="354.9" font-size="20" textLength="169.2" lengthAdjust="spacingAndGlyphs">Ag + AgMy 1 layer</text>
<path d="M452.5,372.2 H496.5" stroke="#7a7a0a" stroke-width="3.0"/>
<text x="504.5" y="379.6" font-size="20" textLength="178.6" lengthAdjust="spacingAndGlyphs">Ag + AgMy 2 layers</text>
<path d="M452.5,396.6 H496.5" stroke="#e612e6" stroke-width="3.0"/>
<text x="504.5" y="404" font-size="20" textLength="178.6" lengthAdjust="spacingAndGlyphs">Ag + AgMy 3 layers</text>
<path d="M72,490.8 V906" stroke="#000" stroke-width="2" fill="none"/>
<path d="M67.7,905 H633" stroke="#000" stroke-width="2" fill="none"/>
<path d="M64,886 H72 M68,867.2 H72 M64,848.4 H72 M68,829.5 H72 M64,810.7 H72 M68,791.9 H72 M64,773.1 H72 M68,754.3 H72 M64,735.4 H72 M68,716.6 H72 M64,697.8 H72 M68,679 H72 M64,660.2 H72 M68,641.3 H72 M64,622.5 H72 M68,603.7 H72 M64,584.9 H72 M68,566.1 H72 M64,547.2 H72 M68,528.4 H72 M64,509.6 H72 M68,490.8 H72 M68,904.8 H72 M138.8,905 V913 M272,905 V913 M405.4,905 V913 M538.6,905 V913 M72.1,905 V909 M205.4,905 V909 M338.7,905 V909 M472,905 V909 M605.3,905 V909" stroke="#000" stroke-width="2" fill="none"/>
<g font-size="16"><text x="58" y="891.6" text-anchor="end">0.0</text><text x="58" y="854" text-anchor="end">0.1</text><text x="58" y="816.3" text-anchor="end">0.2</text><text x="58" y="778.7" text-anchor="end">0.3</text><text x="58" y="741" text-anchor="end">0.4</text><text x="58" y="703.4" text-anchor="end">0.5</text><text x="58" y="665.8" text-anchor="end">0.6</text><text x="58" y="628.1" text-anchor="end">0.7</text><text x="58" y="590.5" text-anchor="end">0.8</text><text x="58" y="552.8" text-anchor="end">0.9</text><text x="58" y="515.2" text-anchor="end">1.0</text><text x="138.8" y="931.7" text-anchor="middle">30</text><text x="272" y="931.7" text-anchor="middle">40</text><text x="405.4" y="931.7" text-anchor="middle">50</text><text x="538.6" y="931.7" text-anchor="middle">60</text></g>
<text x="275.1" y="953.3" font-size="20" textLength="175.5" lengthAdjust="spacingAndGlyphs">Incident angle /deg.</text>
<text x="100.7" y="632.5" font-size="20"><tspan font-family="Liberation Serif, serif">λ</tspan>=594 nm</text>
<text transform="translate(16.3,736) rotate(-90)" x="0" y="0" font-size="19.4" text-anchor="middle" textLength="94" lengthAdjust="spacingAndGlyphs">Reflectivity</text>
<path d="M137.9,512.6L139.4,512.6L140.9,512.7L142.4,512.7L143.9,512.7L145.4,512.7L146.9,512.8L148.4,512.8L149.9,512.8L151.4,512.9L152.9,512.9L154.4,512.9L155.9,513.0L157.4,513.0L158.9,513.0L160.4,513.1L161.9,513.1L163.4,513.1L164.9,513.2L166.4,513.2L167.9,513.3L169.4,513.3L170.9,513.3L172.4,513.4L173.9,513.4L175.4,513.5L176.9,513.5L178.4,513.6L179.9,513.6L181.4,513.7L182.9,513.7L184.4,513.8L185.9,513.8L187.4,513.9L188.9,513.9L190.4,514.0L191.9,514.0L193.4,514.1L194.9,514.1L196.4,514.2L197.9,514.2L199.4,514.3L200.9,514.4L202.4,514.4L203.9,514.5L205.4,514.5L206.9,514.6L208.4,514.6L209.9,514.7L211.4,514.8L212.9,514.8L214.4,514.9L215.9,514.9L217.4,515.0L218.9,515.0L220.4,515.1L221.9,515.1L223.4,515.2L224.9,515.2L226.4,515.3L227.9,515.3L229.4,515.3L230.9,515.4L232.4,515.4L233.9,515.5L235.4,515.5L236.9,515.5L238.4,515.6L239.9,515.6L241.4,515.6L242.9,515.6L244.4,515.7L245.9,515.7L247.4,515.7L248.9,515.7L250.4,515.7L251.9,515.7L253.4,515.7L254.9,515.7L256.4,515.8L257.9,515.8L259.4,515.8L260.9,515.8L262.4,515.8L263.9,515.8L265.4,515.8L266.9,515.9L268.4,515.9L269.9,515.9L271.4,516.0L272.9,516.0L274.4,516.1L275.9,516.1L277.4,516.2L278.9,516.3L280.4,516.3L281.9,516.4L283.4,516.5L284.9,516.6L286.4,516.7L287.9,516.8L289.4,516.9L290.9,517.0L292.4,517.1L293.9,517.2L295.4,517.3L296.9,517.4L298.4,517.5L299.9,517.6L301.4,517.7L302.9,517.8L304.4,517.9L305.9,518.0L307.4,518.1L308.9,518.2L310.4,518.3L311.9,518.4L313.4,518.5L314.9,518.6L316.4,518.7L317.9,518.8L319.4,518.9L320.9,518.9L322.4,519.0L323.9,519.1L325.4,519.2L326.8,519.3L328.3,519.4L329.8,519.5L331.3,519.6L332.8,519.7L334.3,519.8L335.8,519.9L337.3,520.1L338.8,520.2L340.3,520.3L341.8,520.4L343.3,520.6L344.8,520.7L346.3,520.8L347.8,521.0L349.3,521.1L350.8,521.3L352.3,521.4L353.8,521.6L355.3,521.8L356.7,521.9L358.2,522.1L359.7,522.3L361.2,522.5L362.7,522.7L364.2,522.9L365.7,523.2L367.1,523.4L368.6,523.7L370.1,524.0L371.6,524.2L373.0,524.5L374.5,524.8L376.0,525.2L377.4,525.5L378.9,525.8L380.4,526.2L381.8,526.6L383.3,526.9L384.7,527.3L386.2,527.7L387.6,528.1L389.1,528.5L390.5,529.0L391.9,529.4L393.4,529.9L394.8,530.3L396.2,530.8L397.6,531.3L399.0,531.8L400.4,532.3L401.8,532.9L403.2,533.4L404.6,534.0L406.0,534.6L407.3,535.3L408.7,536.0L410.0,536.7L411.3,537.4L412.6,538.2L413.8,539.0L415.1,539.8L416.3,540.7L417.5,541.6L418.7,542.6L419.8,543.6L420.9,544.6L422.0,545.6L423.0,546.7L424.0,547.8L425.0,549.0L425.9,550.1L426.8,551.3L427.7,552.5L428.6,553.7L429.5,555.0L430.3,556.2L431.1,557.5L431.9,558.8L432.7,560.0L433.5,561.3L434.3,562.6L435.0,563.9L435.7,565.2L436.5,566.5L437.2,567.8L437.9,569.2L438.6,570.5L439.3,571.8L439.9,573.2L440.6,574.5L441.2,575.9L441.8,577.3L442.4,578.6L443.0,580.0L443.6,581.4L444.2,582.8L444.7,584.2L445.2,585.6L445.7,587.0L446.2,588.4L446.7,589.8L447.2,591.3L447.7,592.7L448.1,594.1L448.6,595.6L449.0,597.0L449.4,598.4L449.8,599.9L450.2,601.3L450.6,602.8L451.0,604.2L451.4,605.7L451.7,607.1L452.1,608.6L452.4,610.1L452.7,611.5L453.1,613.0L453.4,614.5L453.7,615.9L454.0,617.4L454.3,618.9L454.6,620.3L454.9,621.8L455.2,623.3L455.5,624.8L455.7,626.2L456.0,627.7L456.3,629.2L456.6,630.7L456.9,632.1L457.1,633.6L457.4,635.1L457.7,636.5L458.0,638.0L458.2,639.5L458.5,641.0L458.8,642.5L459.1,643.9L459.3,645.4L459.6,646.9L459.9,648.4L460.2,649.8L460.4,651.3L460.7,652.8L461.0,654.3L461.3,655.7L461.5,657.2L461.8,658.7L462.1,660.2L462.3,661.6L462.6,663.1L462.9,664.6L463.1,666.1L463.4,667.5L463.7,669.0L464.0,670.5L464.2,672.0L464.5,673.4L464.8,674.9L465.0,676.4L465.3,677.9L465.6,679.4L465.9,680.8L466.1,682.3L466.4,683.8L466.7,685.3L466.9,686.7L467.2,688.2L467.5,689.7L467.8,691.2L468.1,692.6L468.4,694.1L468.7,695.6L469.1,697.0L469.5,698.5L469.9,699.9L470.3,701.3L470.8,702.8L471.2,704.2L471.7,705.6L472.2,707.0L472.9,708.2L473.8,708.9L474.9,708.7L475.8,707.8L476.6,706.6L477.3,705.2L477.8,703.8L478.3,702.4L478.7,701.0L479.1,699.5L479.4,698.1L479.8,696.6L480.2,695.2L480.5,693.7L480.9,692.2L481.2,690.8L481.6,689.3L481.9,687.9L482.3,686.4L482.6,684.9L482.9,683.5L483.2,682.0L483.5,680.5L483.8,679.0L484.0,677.6L484.3,676.1L484.5,674.6L484.7,673.1L484.9,671.6L485.1,670.1L485.3,668.7L485.5,667.2L485.7,665.7L485.9,664.2L486.1,662.7L486.3,661.2L486.6,659.7L486.8,658.2L487.0,656.8L487.2,655.3L487.4,653.8L487.6,652.3L487.8,650.8L488.1,649.3L488.3,647.8L488.5,646.4L488.7,644.9L489.0,643.4L489.2,641.9L489.4,640.4L489.7,639.0L489.9,637.5L490.1,636.0L490.4,634.5L490.6,633.0L490.9,631.5L491.1,630.1L491.4,628.6L491.7,627.1L491.9,625.6L492.2,624.2L492.4,622.7L492.7,621.2L493.0,619.7L493.2,618.2L493.5,616.8L493.8,615.3L494.0,613.8L494.3,612.3L494.6,610.9L494.8,609.4L495.1,607.9L495.3,606.4L495.6,604.9L495.8,603.5L496.1,602.0L496.3,600.5L496.6,599.0L496.9,597.6L497.2,596.1L497.5,594.6L497.8,593.1L498.1,591.7L498.4,590.2L498.8,588.8L499.1,587.3L499.5,585.8L499.9,584.4L500.2,582.9L500.6,581.5L501.0,580.0L501.5,578.6L501.9,577.2L502.3,575.7L502.8,574.3L503.3,572.9L503.8,571.5L504.3,570.1L504.9,568.7L505.4,567.3L506.0,565.9L506.5,564.5L507.1,563.1L507.7,561.7L508.2,560.3L508.8,558.9L509.4,557.5L509.9,556.1L510.5,554.8L511.1,553.4L511.8,552.0L512.4,550.7L513.1,549.4L513.9,548.1L514.7,546.8L515.6,545.6L516.5,544.4L517.4,543.2L518.3,542.0L519.3,540.9L520.2,539.7L521.2,538.5L522.1,537.4L523.0,536.2L524.0,535.0L525.0,533.9L526.1,532.9L527.3,532.0L528.6,531.2L528.8,531.1L529.2,532.6L529.5,534.0L529.8,535.5L530.1,537.0L530.3,538.5L530.5,539.9L530.6,541.4L530.7,542.9L530.8,544.4L530.9,545.9L531.0,547.4L531.0,548.9L531.1,550.5L531.2,552.0L531.3,553.5L531.4,555.0L531.5,556.5L531.6,558.0L531.8,559.4L531.9,560.9L532.0,562.4L532.2,563.9L532.3,565.4L532.5,566.9L532.6,568.4L532.8,569.9L533.0,571.4L533.1,572.9L533.3,574.4L533.5,575.9L533.6,577.4L533.8,578.9L534.0,580.4L534.2,581.9L534.4,583.4L534.6,584.8L534.9,586.3L535.1,587.8L535.4,589.3L535.7,590.7L536.1,592.2L536.5,593.7L536.9,595.1L537.3,596.6L537.7,598.0L538.2,599.4L538.7,600.8L539.2,602.3L539.8,603.6L540.3,605.0L541.0,606.4L541.6,607.8L542.3,609.1L543.0,610.4L543.7,611.7L544.5,613.0L545.3,614.3L546.1,615.6L547.0,616.8L547.9,618.0L548.9,619.1L549.9,620.3L550.9,621.3L552.0,622.4L553.1,623.3L554.3,624.3L555.6,625.1L556.8,625.9L558.1,626.7L559.5,627.4L560.8,628.0L562.2,628.6L563.6,629.2L565.0,629.7L566.4,630.2L567.8,630.6L569.3,631.1L570.7,631.5L572.2,631.9L573.6,632.3L575.1,632.6L576.6,633.0L578.0,633.4L579.5,633.7L580.9,634.0L582.4,634.4L583.9,634.7L585.4,635.0L586.8,635.3L588.3,635.6L589.8,635.8L591.3,636.1L592.7,636.4L594.2,636.6L595.7,636.8L597.2,637.0L598.7,637.2L600.2,637.4L601.7,637.6L603.2,637.7L604.7,637.9L606.2,638.0L607.7,638.1L609.2,638.2L610.7,638.3L612.2,638.4L613.7,638.5L615.2,638.6L616.7,638.6L618.2,638.7L619.7,638.7L621.2,638.8L622.7,638.9L624.2,638.9L625.7,638.9L627.2,639.0L628.7,639.0L630.2,639.1L631.2,639.1" stroke="#000000" stroke-width="3.0" fill="none" stroke-linejoin="round" stroke-linecap="round"/>
<path d="M137.9,518.4L139.4,518.5L140.9,518.6L142.4,518.7L143.9,518.8L145.4,518.9L146.9,519.0L148.4,519.1L149.9,519.1L151.4,519.2L152.9,519.3L154.4,519.4L155.9,519.5L157.4,519.6L158.9,519.7L160.4,519.8L161.9,519.9L163.4,519.9L164.9,520.0L166.4,520.1L167.9,520.2L169.4,520.3L170.9,520.4L172.4,520.5L173.8,520.5L175.3,520.6L176.8,520.7L178.3,520.8L179.8,520.9L181.3,520.9L182.8,521.0L184.3,521.1L185.8,521.2L187.3,521.2L188.8,521.3L190.3,521.4L191.8,521.5L193.3,521.5L194.8,521.6L196.3,521.7L197.8,521.7L199.3,521.8L200.8,521.9L202.3,521.9L203.8,522.0L205.3,522.1L206.8,522.2L208.3,522.2L209.8,522.3L211.3,522.4L212.8,522.4L214.3,522.5L215.8,522.6L217.3,522.6L218.8,522.7L220.3,522.8L221.8,522.8L223.3,522.9L224.8,523.0L226.3,523.0L227.8,523.1L229.3,523.2L230.8,523.3L232.3,523.3L233.8,523.4L235.3,523.5L236.8,523.5L238.3,523.6L239.8,523.7L241.3,523.8L242.8,523.8L244.3,523.9L245.8,524.0L247.3,524.1L248.8,524.2L250.3,524.2L251.8,524.3L253.3,524.4L254.8,524.5L256.3,524.6L257.8,524.7L259.3,524.8L260.8,524.9L262.3,525.0L263.8,525.1L265.3,525.2L266.8,525.3L268.3,525.4L269.8,525.5L271.3,525.6L272.7,525.7L274.2,525.8L275.7,526.0L277.2,526.1L278.7,526.2L280.2,526.3L281.7,526.5L283.2,526.6L284.7,526.7L286.2,526.9L287.7,527.0L289.2,527.2L290.7,527.3L292.2,527.5L293.7,527.7L295.2,527.8L296.6,528.0L298.1,528.2L299.6,528.4L301.1,528.5L302.6,528.7L304.1,528.9L305.6,529.1L307.1,529.4L308.5,529.6L310.0,529.8L311.5,530.1L313.0,530.3L314.5,530.6L315.9,530.9L317.4,531.2L318.9,531.5L320.3,531.8L321.8,532.1L323.3,532.5L324.7,532.8L326.2,533.2L327.6,533.6L329.1,534.0L330.5,534.4L331.9,534.9L333.4,535.3L334.8,535.7L336.2,536.2L337.7,536.7L339.1,537.2L340.5,537.7L341.9,538.2L343.3,538.7L344.7,539.3L346.1,539.8L347.5,540.4L348.9,541.0L350.2,541.6L351.6,542.2L353.0,542.8L354.3,543.5L355.7,544.1L357.0,544.8L358.3,545.5L359.6,546.3L360.9,547.0L362.2,547.8L363.5,548.6L364.7,549.5L365.9,550.3L367.2,551.2L368.4,552.1L369.6,553.0L370.8,553.9L371.9,554.8L373.1,555.8L374.3,556.7L375.4,557.7L376.6,558.6L377.7,559.6L378.9,560.6L380.0,561.6L381.1,562.6L382.1,563.7L383.2,564.8L384.2,565.9L385.2,567.0L386.1,568.2L387.0,569.4L387.9,570.6L388.7,571.8L389.5,573.1L390.3,574.4L391.1,575.7L391.8,577.0L392.6,578.3L393.4,579.5L394.1,580.8L394.9,582.1L395.8,583.4L396.6,584.6L397.4,585.9L398.2,587.2L398.9,588.4L399.7,589.8L400.4,591.1L401.0,592.4L401.7,593.8L402.3,595.2L402.8,596.5L403.4,597.9L403.9,599.3L404.4,600.8L404.9,602.2L405.4,603.6L405.9,605.0L406.4,606.4L406.9,607.8L407.4,609.3L407.8,610.7L408.3,612.1L408.7,613.6L409.2,615.0L409.6,616.4L410.1,617.9L410.5,619.3L410.9,620.7L411.3,622.2L411.7,623.6L412.1,625.1L412.5,626.5L412.9,628.0L413.2,629.4L413.6,630.9L413.9,632.4L414.3,633.8L414.7,635.3L415.0,636.7L415.4,638.2L415.7,639.6L416.1,641.1L416.5,642.5L416.8,644.0L417.2,645.5L417.6,646.9L418.0,648.4L418.4,649.8L418.8,651.3L419.2,652.7L419.6,654.1L420.0,655.6L420.4,657.0L420.8,658.5L421.1,659.9L421.5,661.4L421.9,662.8L422.3,664.3L422.7,665.7L423.0,667.2L423.4,668.7L423.7,670.1L424.1,671.6L424.4,673.0L424.7,674.5L425.0,676.0L425.3,677.5L425.5,678.9L425.8,680.4L426.0,681.9L426.3,683.4L426.5,684.9L426.8,686.3L427.0,687.8L427.3,689.3L427.5,690.8L427.8,692.3L428.0,693.7L428.3,695.2L428.6,696.7L428.9,698.2L429.2,699.6L429.5,701.1L429.8,702.6L430.2,704.0L430.5,705.5L430.9,706.9L431.2,708.4L431.6,709.9L431.9,711.3L432.3,712.8L432.7,714.2L433.0,715.7L433.4,717.1L433.7,718.6L434.1,720.0L434.5,721.5L434.8,723.0L435.2,724.4L435.6,725.9L436.0,727.3L436.3,728.8L436.7,730.2L437.1,731.7L437.5,733.1L438.0,734.5L438.4,736.0L438.8,737.4L439.3,738.9L439.7,740.3L440.2,741.7L440.7,743.1L441.2,744.5L441.7,745.9L442.3,747.3L443.1,748.5L444.1,749.5L445.2,749.7L446.4,749.2L447.3,748.2L448.1,746.9L448.8,745.6L449.4,744.2L450.0,742.9L450.5,741.4L451.0,740.0L451.4,738.6L451.9,737.1L452.3,735.7L452.6,734.2L453.0,732.8L453.4,731.3L453.7,729.9L454.1,728.4L454.5,727.0L454.8,725.5L455.2,724.1L455.6,722.6L455.9,721.2L456.3,719.7L456.6,718.2L457.0,716.8L457.3,715.3L457.7,713.9L458.0,712.4L458.4,710.9L458.7,709.5L459.0,708.0L459.4,706.5L459.7,705.1L460.0,703.6L460.3,702.2L460.7,700.7L461.0,699.2L461.3,697.8L461.7,696.3L462.0,694.8L462.4,693.4L462.7,691.9L463.1,690.5L463.4,689.0L463.8,687.5L464.1,686.1L464.4,684.6L464.8,683.2L465.1,681.7L465.4,680.2L465.8,678.8L466.1,677.3L466.4,675.8L466.7,674.4L467.0,672.9L467.3,671.4L467.6,669.9L467.9,668.5L468.2,667.0L468.5,665.5L468.8,664.1L469.2,662.6L469.5,661.1L469.8,659.7L470.1,658.2L470.4,656.7L470.8,655.3L471.1,653.8L471.4,652.4L471.7,650.9L472.1,649.4L472.4,648.0L472.8,646.5L473.1,645.0L473.5,643.6L473.8,642.1L474.2,640.7L474.5,639.2L474.9,637.8L475.3,636.3L475.7,634.9L476.0,633.4L476.4,632.0L476.8,630.5L477.2,629.1L477.6,627.6L478.1,626.2L478.5,624.7L478.9,623.3L479.3,621.9L479.8,620.4L480.2,619.0L480.6,617.5L481.1,616.1L481.5,614.7L482.0,613.2L482.4,611.8L482.9,610.4L483.3,609.0L483.8,607.5L484.2,606.1L484.7,604.7L485.1,603.2L485.6,601.8L486.1,600.4L486.5,599.0L487.0,597.5L487.5,596.1L487.9,594.7L488.4,593.3L488.9,591.8L489.4,590.4L489.9,589.0L490.4,587.6L490.9,586.2L491.5,584.8L492.0,583.4L492.6,582.0L493.2,580.6L493.8,579.3L494.4,577.9L495.0,576.5L495.7,575.2L496.3,573.8L497.0,572.5L497.6,571.1L498.3,569.8L499.0,568.5L499.7,567.1L500.5,565.8L501.2,564.5L502.0,563.2L502.8,561.9L503.6,560.7L504.4,559.4L505.2,558.2L506.1,556.9L507.0,555.7L507.8,554.5L508.7,553.3L509.7,552.1L510.6,550.9L511.5,549.8L512.5,548.7L513.6,547.6L514.7,546.6L515.9,545.7L517.2,544.9L518.4,544.1L519.8,543.4L521.1,542.7L522.4,541.9L523.7,541.2L524.9,540.4L526.2,539.6L527.5,538.9L528.9,538.2L530.2,537.5L530.8,538.9L531.5,540.2L532.0,541.6L532.5,543.1L532.8,544.5L533.1,546.0L533.4,547.5L533.6,548.9L533.8,550.4L533.9,551.9L534.1,553.4L534.3,554.9L534.5,556.4L534.7,557.9L534.9,559.4L535.1,560.9L535.3,562.4L535.6,563.8L535.9,565.3L536.1,566.8L536.4,568.3L536.7,569.7L537.0,571.2L537.4,572.7L537.8,574.1L538.2,575.5L538.8,577.0L539.3,578.3L540.0,579.7L540.6,581.1L541.2,582.4L541.8,583.8L542.5,585.2L543.1,586.6L543.7,587.9L544.3,589.3L545.0,590.6L545.8,591.9L546.6,593.1L547.5,594.3L548.5,595.5L549.4,596.7L550.4,597.8L551.3,599.0L552.2,600.2L553.2,601.4L554.1,602.5L555.2,603.6L556.2,604.7L557.3,605.7L558.5,606.7L559.7,607.6L560.9,608.5L562.1,609.3L563.4,610.1L564.7,610.8L566.1,611.5L567.4,612.1L568.8,612.7L570.2,613.3L571.6,613.9L573.0,614.4L574.4,614.9L575.8,615.4L577.2,615.9L578.7,616.3L580.1,616.7L581.6,617.1L583.0,617.5L584.5,617.9L585.9,618.2L587.4,618.5L588.9,618.8L590.4,619.1L591.8,619.4L593.3,619.6L594.8,619.9L596.3,620.1L597.8,620.4L599.3,620.6L600.7,620.8L602.2,621.0L603.7,621.3L605.2,621.5L606.7,621.7L608.2,621.9L609.7,622.1L611.1,622.3L612.6,622.5L614.1,622.8L615.6,623.0L617.1,623.2L618.6,623.4L620.1,623.7L621.5,623.9L623.0,624.1L624.5,624.4L626.0,624.6L627.5,624.8L629.0,625.1L630.5,625.3L631.2,625.4" stroke="#700000" stroke-width="3.0" fill="none" stroke-linejoin="round" stroke-linecap="round"/>
<path d="M137.9,539.4L139.4,539.5L140.9,539.5L142.4,539.6L143.9,539.7L145.4,539.8L146.9,539.9L148.4,540.0L149.9,540.0L151.4,540.1L152.9,540.2L154.4,540.3L155.9,540.4L157.4,540.5L158.9,540.7L160.4,540.8L161.9,540.9L163.4,541.0L164.8,541.2L166.3,541.3L167.8,541.5L169.3,541.6L170.8,541.8L172.3,542.0L173.8,542.2L175.3,542.3L176.8,542.5L178.3,542.7L179.8,542.9L181.2,543.1L182.7,543.3L184.2,543.5L185.7,543.7L187.2,543.9L188.7,544.1L190.2,544.3L191.6,544.6L193.1,544.8L194.6,545.0L196.1,545.3L197.6,545.5L199.1,545.7L200.5,546.0L202.0,546.2L203.5,546.5L205.0,546.7L206.5,547.0L207.9,547.2L209.4,547.5L210.9,547.8L212.4,548.0L213.8,548.3L215.3,548.6L216.8,548.9L218.3,549.2L219.7,549.4L221.2,549.7L222.7,550.0L224.1,550.3L225.6,550.6L227.1,550.9L228.5,551.3L230.0,551.6L231.5,551.9L232.9,552.3L234.4,552.6L235.9,553.0L237.3,553.3L238.8,553.7L240.2,554.1L241.7,554.4L243.1,554.8L244.6,555.2L246.0,555.6L247.5,556.0L248.9,556.4L250.3,556.8L251.8,557.2L253.2,557.7L254.7,558.1L256.1,558.5L257.6,558.9L259.0,559.3L260.4,559.8L261.9,560.2L263.3,560.6L264.7,561.1L266.2,561.6L267.6,562.0L269.0,562.5L270.4,563.0L271.8,563.6L273.2,564.1L274.6,564.7L276.0,565.2L277.4,565.8L278.7,566.5L280.1,567.1L281.4,567.8L282.8,568.5L284.1,569.2L285.4,569.9L286.7,570.7L288.0,571.5L289.2,572.3L290.5,573.1L291.7,573.9L293.0,574.8L294.2,575.6L295.4,576.5L296.6,577.4L297.8,578.4L298.9,579.3L300.1,580.3L301.3,581.2L302.4,582.2L303.5,583.2L304.6,584.2L305.7,585.2L306.8,586.2L307.9,587.3L309.0,588.3L310.1,589.4L311.1,590.4L312.1,591.5L313.1,592.6L314.1,593.8L315.1,594.9L316.1,596.1L317.0,597.2L318.0,598.4L318.9,599.6L319.7,600.8L320.6,602.0L321.5,603.3L322.3,604.5L323.1,605.8L324.0,607.0L324.8,608.3L325.6,609.6L326.3,610.8L327.1,612.1L327.9,613.4L328.6,614.7L329.4,616.0L330.1,617.3L330.9,618.6L331.6,619.9L332.3,621.2L333.0,622.6L333.8,623.9L334.5,625.2L335.2,626.5L335.8,627.9L336.5,629.2L337.2,630.6L337.8,631.9L338.5,633.3L339.1,634.6L339.8,636.0L340.4,637.3L341.0,638.7L341.6,640.1L342.1,641.5L342.7,642.9L343.2,644.3L343.8,645.7L344.3,647.1L344.8,648.5L345.3,649.9L345.8,651.3L346.2,652.8L346.7,654.2L347.2,655.6L347.6,657.0L348.1,658.5L348.5,659.9L348.9,661.4L349.4,662.8L349.8,664.2L350.2,665.7L350.7,667.1L351.1,668.5L351.5,670.0L352.0,671.4L352.4,672.8L352.8,674.3L353.3,675.7L353.7,677.2L354.1,678.6L354.5,680.0L354.9,681.5L355.3,682.9L355.8,684.4L356.2,685.8L356.6,687.3L357.0,688.7L357.4,690.2L357.7,691.6L358.1,693.1L358.5,694.5L358.9,696.0L359.2,697.4L359.6,698.9L359.9,700.3L360.3,701.8L360.6,703.3L361.0,704.7L361.3,706.2L361.6,707.6L362.0,709.1L362.3,710.6L362.6,712.0L363.0,713.5L363.3,715.0L363.6,716.4L364.0,717.9L364.3,719.3L364.7,720.8L365.0,722.3L365.4,723.7L365.8,725.2L366.1,726.6L366.5,728.1L366.8,729.5L367.2,731.0L367.6,732.5L367.9,733.9L368.3,735.4L368.6,736.8L369.0,738.3L369.3,739.7L369.7,741.2L370.0,742.7L370.4,744.1L370.7,745.6L371.0,747.0L371.4,748.5L371.7,750.0L372.0,751.4L372.4,752.9L372.7,754.4L373.0,755.8L373.3,757.3L373.7,758.8L374.0,760.2L374.3,761.7L374.6,763.2L374.9,764.6L375.2,766.1L375.5,767.6L375.9,769.0L376.2,770.5L376.5,772.0L376.8,773.4L377.1,774.9L377.4,776.4L377.7,777.8L378.0,779.3L378.3,780.8L378.6,782.3L378.9,783.7L379.2,785.2L379.5,786.7L379.8,788.1L380.1,789.6L380.4,791.1L380.7,792.5L381.0,794.0L381.3,795.5L381.6,797.0L381.9,798.4L382.2,799.9L382.5,801.4L382.8,802.8L383.1,804.3L383.4,805.8L383.7,807.2L384.1,808.7L384.4,810.2L384.7,811.6L385.1,813.1L385.4,814.6L385.8,816.0L386.2,817.5L386.6,818.9L387.0,820.3L387.4,821.8L387.9,823.2L388.3,824.7L388.7,826.1L389.2,827.5L389.6,829.0L390.1,830.4L390.5,831.8L391.0,833.2L391.4,834.7L391.9,836.1L392.4,837.5L393.0,838.9L393.6,840.3L394.3,841.6L395.1,842.9L396.0,844.1L397.0,845.2L398.1,846.1L399.4,846.8L400.7,846.9L402.0,846.5L403.2,845.7L404.2,844.6L405.0,843.3L405.7,842.0L406.3,840.6L406.8,839.2L407.3,837.8L407.7,836.4L408.0,834.9L408.4,833.5L408.7,832.0L409.1,830.5L409.4,829.1L409.7,827.6L410.1,826.2L410.4,824.7L410.8,823.2L411.1,821.8L411.5,820.3L411.8,818.9L412.2,817.4L412.5,815.9L412.9,814.5L413.2,813.0L413.5,811.6L413.9,810.1L414.2,808.6L414.5,807.2L414.8,805.7L415.1,804.2L415.4,802.8L415.8,801.3L416.0,799.8L416.3,798.3L416.6,796.9L416.9,795.4L417.2,793.9L417.5,792.4L417.8,791.0L418.0,789.5L418.3,788.0L418.6,786.5L418.9,785.1L419.1,783.6L419.4,782.1L419.7,780.6L420.0,779.2L420.2,777.7L420.5,776.2L420.8,774.7L421.0,773.3L421.3,771.8L421.5,770.3L421.8,768.8L422.1,767.4L422.3,765.9L422.6,764.4L422.8,762.9L423.1,761.4L423.3,760.0L423.6,758.5L423.8,757.0L424.1,755.5L424.3,754.0L424.6,752.6L424.8,751.1L425.1,749.6L425.3,748.1L425.6,746.6L425.8,745.2L426.1,743.7L426.3,742.2L426.6,740.7L426.9,739.2L427.1,737.8L427.4,736.3L427.7,734.8L427.9,733.3L428.2,731.9L428.5,730.4L428.8,728.9L429.1,727.5L429.4,726.0L429.7,724.5L430.0,723.0L430.3,721.6L430.6,720.1L430.9,718.6L431.2,717.2L431.5,715.7L431.8,714.2L432.1,712.8L432.4,711.3L432.7,709.8L433.0,708.3L433.3,706.9L433.6,705.4L433.9,703.9L434.2,702.5L434.5,701.0L434.8,699.5L435.1,698.1L435.5,696.6L435.8,695.1L436.2,693.7L436.6,692.2L437.0,690.8L437.4,689.4L437.9,687.9L438.3,686.5L438.7,685.1L439.2,683.6L439.6,682.2L440.0,680.7L440.4,679.3L440.7,677.8L441.0,676.3L441.3,674.9L441.6,673.4L441.9,671.9L442.3,670.5L442.6,669.0L443.0,667.6L443.5,666.1L443.9,664.7L444.3,663.3L444.8,661.8L445.2,660.4L445.7,659.0L446.2,657.5L446.6,656.1L447.1,654.7L447.6,653.3L448.0,651.8L448.5,650.4L448.9,649.0L449.4,647.6L449.9,646.1L450.3,644.7L450.8,643.3L451.3,641.9L451.7,640.4L452.2,639.0L452.7,637.6L453.2,636.2L453.7,634.7L454.2,633.3L454.7,631.9L455.2,630.5L455.8,629.1L456.3,627.7L456.9,626.3L457.4,624.9L458.0,623.6L458.6,622.2L459.2,620.8L459.8,619.4L460.5,618.1L461.1,616.7L461.8,615.4L462.4,614.0L463.1,612.7L463.9,611.4L464.6,610.1L465.3,608.8L466.1,607.5L466.8,606.2L467.6,604.9L468.3,603.6L469.1,602.3L469.8,601.0L470.6,599.7L471.4,598.4L472.1,597.1L472.9,595.8L473.6,594.5L474.4,593.2L475.1,591.9L475.8,590.6L476.6,589.3L477.3,588.0L478.1,586.7L478.8,585.4L479.6,584.1L480.4,582.9L481.3,581.6L482.2,580.4L483.1,579.2L484.0,578.1L485.0,576.9L486.1,575.9L487.2,574.9L488.4,573.9L489.5,573.0L490.7,572.1L491.9,571.2L493.1,570.3L494.3,569.3L495.5,568.4L496.6,567.4L497.8,566.5L498.9,565.5L500.1,564.6L501.3,563.6L502.5,562.7L503.7,561.8L504.9,561.0L506.2,560.2L507.5,559.4L508.8,558.7L510.1,558.1L511.5,557.5L512.9,557.0L514.3,556.4L515.7,555.9L517.2,555.5L518.6,554.9L519.9,554.3L521.3,553.6L522.5,552.8L523.8,552.0L524.9,551.0L526.1,550.1L526.7,551.5L527.2,552.9L527.7,554.3L528.0,555.8L528.3,557.3L528.6,558.7L528.8,560.2L529.1,561.7L529.4,563.2L529.7,564.6L530.1,566.1L530.6,567.5L531.1,568.9L531.6,570.3L532.2,571.7L532.8,573.1L533.4,574.5L534.1,575.8L534.8,577.2L535.5,578.5L536.3,579.8L537.1,581.0L538.0,582.2L539.0,583.4L539.9,584.5L540.9,585.6L542.0,586.7L543.0,587.8L544.1,588.9L545.2,589.9L546.3,590.9L547.5,591.9L548.7,592.8L549.9,593.6L551.1,594.5L552.4,595.3L553.7,596.1L555.0,596.9L556.3,597.6L557.6,598.3L558.9,599.0L560.3,599.7L561.7,600.3L563.1,600.9L564.5,601.4L565.9,601.9L567.3,602.4L568.7,602.8L570.2,603.2L571.6,603.6L573.1,604.0L574.6,604.4L576.0,604.8L577.5,605.1L578.9,605.5L580.4,605.8L581.9,606.1L583.3,606.5L584.8,606.8L586.3,607.1L587.8,607.4L589.2,607.7L590.7,607.9L592.2,608.2L593.7,608.4L595.2,608.6L596.7,608.8L598.2,609.0L599.7,609.2L601.2,609.4L602.7,609.5L604.2,609.6L605.7,609.8L607.2,609.9L608.7,610.0L610.2,610.1L611.7,610.2L613.2,610.3L614.7,610.3L616.2,610.4L617.7,610.5L619.2,610.5L620.7,610.6L622.2,610.7L623.7,610.7L625.2,610.8L626.7,610.8L628.2,610.9L629.7,610.9L631.2,611.0" stroke="#7a7a0a" stroke-width="3.0" fill="none" stroke-linejoin="round" stroke-linecap="round"/>
<path d="M138.8,699.2L139.7,700.4L140.6,701.6L141.6,702.8L142.5,704.0L143.4,705.1L144.3,706.3L145.2,707.5L146.1,708.7L147.0,709.9L148.0,711.1L148.9,712.3L149.8,713.5L150.7,714.7L151.6,715.9L152.5,717.1L153.4,718.3L154.3,719.5L155.2,720.7L156.0,721.9L156.9,723.1L157.8,724.3L158.7,725.6L159.5,726.8L160.4,728.0L161.2,729.3L162.1,730.5L162.9,731.8L163.7,733.0L164.5,734.3L165.3,735.5L166.1,736.8L166.9,738.1L167.7,739.3L168.5,740.6L169.3,741.9L170.1,743.2L170.9,744.4L171.7,745.7L172.5,747.0L173.3,748.3L174.1,749.5L174.9,750.8L175.7,752.1L176.5,753.3L177.3,754.6L178.1,755.9L178.9,757.1L179.7,758.4L180.5,759.7L181.3,761.0L182.1,762.2L182.9,763.5L183.6,764.8L184.4,766.1L185.2,767.4L185.9,768.7L186.6,770.0L187.4,771.3L188.1,772.6L188.8,773.9L189.5,775.3L190.2,776.6L190.9,777.9L191.6,779.2L192.3,780.6L193.0,781.9L193.7,783.3L194.3,784.6L195.0,786.0L195.6,787.3L196.3,788.7L197.0,790.0L197.6,791.4L198.2,792.7L198.9,794.1L199.5,795.4L200.2,796.8L200.8,798.1L201.4,799.5L202.1,800.9L202.7,802.2L203.4,803.6L204.0,804.9L204.6,806.3L205.3,807.6L205.9,809.0L206.6,810.4L207.2,811.7L207.9,813.1L208.5,814.4L209.2,815.7L209.9,817.1L210.5,818.4L211.2,819.8L211.9,821.1L212.6,822.5L213.3,823.8L213.9,825.1L214.6,826.5L215.3,827.8L216.0,829.1L216.7,830.5L217.3,831.8L218.0,833.1L218.7,834.5L219.4,835.8L220.1,837.1L220.8,838.5L221.5,839.8L222.2,841.1L222.9,842.4L223.6,843.8L224.4,845.1L225.1,846.4L225.9,847.7L226.6,849.0L227.4,850.2L228.2,851.5L229.0,852.8L229.9,854.0L230.7,855.3L231.6,856.5L232.5,857.7L233.4,858.8L234.4,860.0L235.4,861.1L236.4,862.2L237.4,863.3L238.5,864.3L239.7,865.3L240.8,866.2L242.1,867.1L243.3,867.9L244.6,868.7L246.0,869.3L247.4,869.8L248.8,870.2L250.3,870.5L251.8,870.6L253.2,870.5L254.7,870.3L256.2,870.0L257.6,869.5L258.9,868.8L260.2,868.1L261.5,867.3L262.7,866.4L263.8,865.4L264.9,864.3L265.9,863.2L266.9,862.1L267.8,860.9L268.7,859.7L269.6,858.5L270.4,857.3L271.2,856.0L272.0,854.7L272.7,853.4L273.5,852.1L274.1,850.8L274.8,849.4L275.5,848.1L276.1,846.7L276.7,845.3L277.4,844.0L278.0,842.6L278.6,841.2L279.2,839.8L279.8,838.5L280.4,837.1L281.0,835.7L281.6,834.4L282.2,833.0L282.9,831.6L283.5,830.3L284.1,828.9L284.7,827.5L285.3,826.2L286.0,824.8L286.6,823.4L287.2,822.1L287.8,820.7L288.4,819.3L289.1,818.0L289.7,816.6L290.3,815.2L290.8,813.8L291.4,812.5L292.0,811.1L292.6,809.7L293.2,808.3L293.7,806.9L294.3,805.5L294.9,804.1L295.4,802.8L296.0,801.4L296.6,800.0L297.1,798.6L297.7,797.2L298.3,795.8L298.9,794.4L299.4,793.0L300.0,791.7L300.6,790.3L301.2,788.9L301.8,787.5L302.4,786.2L303.0,784.8L303.7,783.4L304.3,782.1L304.9,780.7L305.6,779.3L306.2,778.0L306.8,776.6L307.4,775.2L308.1,773.9L308.7,772.5L309.3,771.2L309.9,769.8L310.5,768.4L311.1,767.0L311.7,765.7L312.3,764.3L312.9,762.9L313.5,761.5L314.0,760.1L314.6,758.7L315.2,757.3L315.7,755.9L316.3,754.6L316.8,753.2L317.4,751.8L318.0,750.4L318.6,749.0L319.1,747.6L319.7,746.2L320.3,744.9L320.9,743.5L321.5,742.1L322.1,740.7L322.8,739.4L323.4,738.0L324.1,736.7L324.7,735.3L325.4,734.0L326.1,732.6L326.7,731.3L327.4,730.0L328.1,728.6L328.8,727.3L329.5,726.0L330.2,724.6L330.9,723.3L331.6,722.0L332.3,720.7L333.0,719.3L333.7,718.0L334.4,716.7L335.2,715.4L335.9,714.1L336.6,712.7L337.3,711.4L338.0,710.1L338.8,708.8L339.5,707.5L340.3,706.2L341.0,704.9L341.8,703.6L342.6,702.3L343.4,701.1L344.2,699.8L345.0,698.5L345.8,697.3L346.6,696.0L347.4,694.7L348.2,693.5L349.0,692.2L349.8,690.9L350.6,689.7L351.4,688.4L352.2,687.1L353.0,685.8L353.7,684.5L354.5,683.2L355.3,682.0L356.0,680.7L356.8,679.4L357.6,678.1L358.4,676.8L359.2,675.6L360.0,674.3L360.9,673.1L361.7,671.8L362.6,670.6L363.5,669.4L364.4,668.2L365.3,667.0L366.3,665.9L367.2,664.7L368.2,663.6L369.2,662.5L370.2,661.3L371.2,660.2L372.2,659.1L373.1,657.9L374.1,656.8L375.1,655.7L376.1,654.5L377.1,653.4L378.1,652.3L379.1,651.2L380.1,650.1L381.2,649.0L382.2,648.0L383.3,646.9L384.4,645.9L385.5,644.9L386.6,643.8L387.7,642.8L388.9,641.9L390.0,640.9L391.1,639.9L392.3,639.0L393.5,638.0L394.6,637.1L395.8,636.1L397.0,635.2L398.2,634.3L399.4,633.4L400.6,632.6L401.9,631.7L403.1,630.8L404.3,630.0L405.6,629.2L406.9,628.4L408.1,627.6L409.4,626.8L410.7,626.0L412.0,625.2L413.2,624.4L414.5,623.6L415.8,622.9L417.1,622.1L418.4,621.3L419.6,620.5L420.9,619.7L422.2,619.0L423.5,618.2L424.8,617.4L426.1,616.6L427.4,615.9L428.7,615.1L430.0,614.4L431.3,613.6L432.6,612.9L433.9,612.2L435.2,611.5L436.6,610.8L437.9,610.2L439.3,609.5L440.6,608.9L442.0,608.3L443.4,607.7L444.8,607.1L446.2,606.6L447.6,606.1L449.0,605.6L450.4,605.1L451.8,604.6L453.3,604.1L454.7,603.7L456.1,603.2L457.5,602.7L458.9,602.2L460.4,601.7L461.8,601.2L463.2,600.7L464.6,600.2L466.0,599.7L467.4,599.2L468.8,598.7L470.3,598.2L471.7,597.7L473.1,597.3L474.6,596.9L476.0,596.5L477.5,596.1L478.9,595.7L480.4,595.3L481.8,595.0L483.3,594.6L484.7,594.2L486.2,593.9L487.6,593.5L489.1,593.1L490.5,592.7L492.0,592.3L493.4,591.9L494.8,591.4L496.3,591.0L497.7,590.5L499.2,590.1L500.6,589.7L502.0,589.3L503.5,588.9L504.9,588.5L506.4,588.2L507.9,587.8L509.3,587.5L510.8,587.1L512.2,586.8L513.7,586.4L515.1,585.9L516.5,585.5L518.0,585.0L519.4,584.5L520.8,584.0L522.2,583.6L523.7,583.3L525.2,583.2L526.7,583.2L527.9,583.4L528.5,584.8L529.2,586.1L530.1,587.3L531.1,588.4L532.2,589.4L533.4,590.3L534.7,591.1L536.0,591.9L537.3,592.6L538.6,593.4L539.8,594.2L541.2,594.9L542.5,595.7L543.8,596.3L545.2,596.9L546.6,597.5L548.0,598.0L549.4,598.4L550.9,598.9L552.3,599.3L553.8,599.7L555.2,600.1L556.7,600.4L558.2,600.8L559.6,601.1L561.1,601.4L562.6,601.7L564.1,601.9L565.6,602.2L567.1,602.4L568.5,602.6L570.0,602.8L571.5,603.0L573.0,603.1L574.5,603.2L576.0,603.3L577.5,603.5L579.0,603.5L580.5,603.6L582.1,603.7L583.6,603.8L585.1,603.8L586.6,603.9L588.1,603.9L589.6,603.9L591.1,604.0L592.6,604.0L594.1,604.0L595.6,604.0L597.1,604.0L598.6,604.0L600.1,604.0L601.6,603.9L603.1,603.9L604.6,603.9L606.1,603.8L607.6,603.8L609.1,603.7L610.7,603.7L612.2,603.6L613.7,603.6L615.2,603.5L616.7,603.4L618.2,603.3L619.7,603.3L621.2,603.2L622.7,603.1L624.2,603.0L625.7,602.9L627.2,602.8L628.7,602.7L630.2,602.7L631.2,602.6" stroke="#e612e6" stroke-width="3.0" fill="none" stroke-linejoin="round" stroke-linecap="round"/>
<path d="M441.2,803.8 H485.8" stroke="#000000" stroke-width="3.0"/>
<text x="491.5" y="811.2" font-size="20">Ag</text>
<path d="M441.2,828 H485.8" stroke="#700000" stroke-width="3.0"/>
<text x="491.5" y="835.4" font-size="20">Ag + AgMy 1 layer</text>
<path d="M441.2,853 H485.8" stroke="#7a7a0a" stroke-width="3.0"/>
<text x="491.5" y="860.4" font-size="20">Ag + AgMy 2 layers</text>
<path d="M441.2,877.5 H485.8" stroke="#e612e6" stroke-width="3.0"/>
<text x="491.5" y="884.9" font-size="20" textLength="173" lengthAdjust="spacingAndGlyphs">Ag + AgMy 3 layers</text>
<path d="M70.7,977.7 V1384.4" stroke="#000" stroke-width="2" fill="none"/>
<path d="M62.4,1383.4 H621.2" stroke="#000" stroke-width="2" fill="none"/>
<path d="M62.7,1383.3 H70.7 M66.7,1364 H70.7 M62.7,1344.6 H70.7 M66.7,1325.3 H70.7 M62.7,1306 H70.7 M66.7,1286.6 H70.7 M62.7,1267.3 H70.7 M66.7,1248 H70.7 M62.7,1228.7 H70.7 M66.7,1209.3 H70.7 M62.7,1190 H70.7 M66.7,1170.7 H70.7 M62.7,1151.3 H70.7 M66.7,1132 H70.7 M62.7,1112.7 H70.7 M66.7,1093.3 H70.7 M62.7,1074 H70.7 M66.7,1054.7 H70.7 M62.7,1035.4 H70.7 M66.7,1016 H70.7 M62.7,996.7 H70.7 M66.7,977.4 H70.7 M180.1,1383.4 V1391.4 M400.2,1383.4 V1391.4 M620.2,1383.4 V1391.4 M70,1383.4 V1387.4 M290.1,1383.4 V1387.4 M510.2,1383.4 V1387.4" stroke="#000" stroke-width="2" fill="none"/>
<g font-size="16"><text x="56.3" y="1388.9" text-anchor="end">0.0</text><text x="56.3" y="1350.2" text-anchor="end">0.1</text><text x="56.3" y="1311.6" text-anchor="end">0.2</text><text x="56.3" y="1272.9" text-anchor="end">0.3</text><text x="56.3" y="1234.3" text-anchor="end">0.4</text><text x="56.3" y="1195.6" text-anchor="end">0.5</text><text x="56.3" y="1156.9" text-anchor="end">0.6</text><text x="56.3" y="1118.3" text-anchor="end">0.7</text><text x="56.3" y="1079.6" text-anchor="end">0.8</text><text x="56.3" y="1041" text-anchor="end">0.9</text><text x="56.3" y="1002.3" text-anchor="end">1.0</text><text x="180.1" y="1409.8" text-anchor="middle">30</text><text x="400.2" y="1409.8" text-anchor="middle">40</text><text x="620.2" y="1409.8" text-anchor="middle">50</text></g>
<text x="278" y="1431.9" font-size="19.5" textLength="173" lengthAdjust="spacingAndGlyphs">Incident angle /deg.</text>
<text x="97.3" y="1138.3" font-size="20"><tspan font-family="Liberation Serif, serif">λ</tspan>=543 nm</text>
<text transform="translate(16.5,1221.1) rotate(-90)" x="0" y="0" font-size="19.2" text-anchor="middle" textLength="93" lengthAdjust="spacingAndGlyphs">Reflectivity</text>
<path d="M181.1,998.1L182.6,998.2L184.1,998.3L185.6,998.4L187.1,998.5L188.6,998.6L190.1,998.8L191.6,998.9L193.1,999.1L194.6,999.2L196.1,999.4L197.5,999.6L199.0,999.8L200.5,1000.0L202.0,1000.1L203.5,1000.3L205.0,1000.5L206.5,1000.7L208.0,1000.9L209.5,1001.0L211.0,1001.2L212.4,1001.4L213.9,1001.5L215.4,1001.6L216.9,1001.8L218.4,1001.9L219.9,1002.0L221.4,1002.1L222.9,1002.2L224.4,1002.3L225.9,1002.4L227.4,1002.5L228.9,1002.6L230.4,1002.6L231.9,1002.7L233.4,1002.8L234.9,1002.9L236.4,1003.0L237.9,1003.1L239.4,1003.2L240.9,1003.4L242.4,1003.5L243.9,1003.7L245.4,1004.0L246.8,1004.2L248.3,1004.5L249.8,1004.8L251.3,1005.1L252.7,1005.4L254.2,1005.8L255.6,1006.1L257.1,1006.5L258.6,1006.8L260.0,1007.2L261.5,1007.5L262.9,1007.9L264.4,1008.2L265.9,1008.5L267.3,1008.8L268.8,1009.1L270.3,1009.4L271.7,1009.7L273.2,1010.0L274.7,1010.3L276.2,1010.6L277.6,1010.8L279.1,1011.1L280.6,1011.4L282.1,1011.7L283.5,1012.0L285.0,1012.3L286.5,1012.7L287.9,1013.1L289.3,1013.6L290.7,1014.1L292.1,1014.6L293.5,1015.2L294.9,1015.8L296.3,1016.4L297.6,1017.0L299.0,1017.6L300.4,1018.2L301.8,1018.8L303.1,1019.4L304.5,1020.0L305.9,1020.6L307.3,1021.2L308.7,1021.7L310.1,1022.2L311.5,1022.8L312.9,1023.4L314.2,1024.0L315.6,1024.7L316.9,1025.4L318.1,1026.2L319.4,1027.0L320.7,1027.8L322.0,1028.6L323.2,1029.4L324.5,1030.2L325.8,1031.0L327.1,1031.8L328.3,1032.6L329.6,1033.4L330.8,1034.3L331.9,1035.3L333.1,1036.3L334.1,1037.3L335.2,1038.4L336.2,1039.5L337.2,1040.6L338.3,1041.7L339.4,1042.7L340.4,1043.7L341.5,1044.8L342.6,1045.8L343.7,1046.9L344.7,1048.0L345.7,1049.1L346.7,1050.2L347.6,1051.4L348.4,1052.6L349.3,1053.9L350.1,1055.2L350.9,1056.4L351.6,1057.7L352.4,1059.0L353.1,1060.4L353.8,1061.7L354.5,1063.0L355.2,1064.3L355.9,1065.6L356.6,1067.0L357.3,1068.3L358.0,1069.6L358.7,1071.0L359.3,1072.3L360.0,1073.7L360.6,1075.1L361.2,1076.4L361.8,1077.8L362.4,1079.2L363.0,1080.6L363.5,1082.0L364.1,1083.4L364.6,1084.8L365.2,1086.2L365.7,1087.6L366.2,1089.0L366.7,1090.4L367.2,1091.8L367.7,1093.2L368.2,1094.6L368.7,1096.1L369.1,1097.5L369.5,1098.9L370.0,1100.4L370.4,1101.8L370.8,1103.3L371.2,1104.7L371.6,1106.2L372.0,1107.6L372.3,1109.1L372.7,1110.5L373.0,1112.0L373.4,1113.4L373.7,1114.9L374.1,1116.4L374.5,1117.8L374.8,1119.3L375.2,1120.7L375.5,1122.2L375.9,1123.6L376.3,1125.1L376.7,1126.5L377.1,1128.0L377.5,1129.4L377.9,1130.9L378.4,1132.3L378.8,1133.8L379.2,1135.2L379.5,1136.7L379.8,1138.1L380.2,1139.6L380.5,1141.1L380.8,1142.5L381.0,1144.0L381.3,1145.5L381.6,1147.0L381.9,1148.4L382.2,1149.9L382.4,1151.4L382.7,1152.9L383.0,1154.3L383.3,1155.8L383.6,1157.3L383.9,1158.8L384.1,1160.2L384.4,1161.7L384.7,1163.2L385.0,1164.6L385.3,1166.1L385.6,1167.6L385.9,1169.1L386.2,1170.5L386.5,1172.0L386.8,1173.5L387.1,1174.9L387.4,1176.4L387.7,1177.9L388.0,1179.4L388.3,1180.8L388.6,1182.3L388.9,1183.8L389.2,1185.2L389.5,1186.7L389.8,1188.2L390.1,1189.6L390.4,1191.1L390.7,1192.6L391.0,1194.1L391.3,1195.5L391.6,1197.0L391.9,1198.5L392.2,1200.0L392.4,1201.4L392.7,1202.9L393.0,1204.4L393.3,1205.8L393.6,1207.3L393.9,1208.8L394.2,1210.3L394.5,1211.7L394.7,1213.2L395.0,1214.7L395.3,1216.2L395.6,1217.6L395.9,1219.1L396.2,1220.6L396.5,1222.0L396.8,1223.5L397.1,1225.0L397.4,1226.5L397.7,1227.9L398.1,1229.4L398.4,1230.8L398.8,1232.3L399.2,1233.8L399.6,1235.2L400.0,1236.6L400.6,1238.0L401.1,1239.4L401.7,1240.8L402.5,1242.1L403.4,1243.1L404.6,1243.7L405.8,1243.5L406.9,1242.6L407.8,1241.5L408.5,1240.2L409.1,1238.8L409.6,1237.4L410.0,1236.0L410.4,1234.5L410.8,1233.0L411.1,1231.6L411.4,1230.1L411.7,1228.6L411.9,1227.2L412.2,1225.7L412.5,1224.2L412.8,1222.7L413.1,1221.3L413.4,1219.8L413.7,1218.3L414.0,1216.9L414.3,1215.4L414.6,1213.9L414.9,1212.4L415.2,1211.0L415.5,1209.5L415.8,1208.0L416.1,1206.6L416.4,1205.1L416.7,1203.6L417.0,1202.1L417.2,1200.7L417.5,1199.2L417.8,1197.7L418.1,1196.2L418.3,1194.8L418.6,1193.3L418.9,1191.8L419.1,1190.3L419.4,1188.9L419.7,1187.4L419.9,1185.9L420.2,1184.4L420.5,1182.9L420.7,1181.5L421.0,1180.0L421.2,1178.5L421.5,1177.0L421.8,1175.5L422.0,1174.1L422.3,1172.6L422.5,1171.1L422.8,1169.6L423.0,1168.2L423.3,1166.7L423.5,1165.2L423.8,1163.7L424.0,1162.2L424.2,1160.7L424.5,1159.3L424.7,1157.8L424.9,1156.3L425.1,1154.8L425.3,1153.3L425.6,1151.8L425.8,1150.4L426.0,1148.9L426.2,1147.4L426.4,1145.9L426.7,1144.4L426.9,1142.9L427.1,1141.4L427.4,1140.0L427.6,1138.5L427.8,1137.0L428.1,1135.5L428.3,1134.0L428.5,1132.6L428.8,1131.1L429.0,1129.6L429.3,1128.1L429.5,1126.6L429.8,1125.2L430.0,1123.7L430.3,1122.2L430.5,1120.7L430.8,1119.2L431.0,1117.8L431.3,1116.3L431.5,1114.8L431.8,1113.3L432.0,1111.8L432.3,1110.3L432.5,1108.9L432.7,1107.4L433.0,1105.9L433.2,1104.4L433.5,1102.9L433.7,1101.5L433.9,1100.0L434.2,1098.5L434.4,1097.0L434.7,1095.5L434.9,1094.1L435.2,1092.6L435.4,1091.1L435.7,1089.6L436.0,1088.1L436.3,1086.7L436.5,1085.2L436.8,1083.7L437.1,1082.2L437.4,1080.8L437.7,1079.3L438.1,1077.8L438.4,1076.4L438.8,1074.9L439.1,1073.5L439.5,1072.0L439.9,1070.6L440.3,1069.1L440.7,1067.7L441.1,1066.2L441.6,1064.8L442.0,1063.4L442.5,1061.9L443.0,1060.5L443.5,1059.1L444.0,1057.7L444.5,1056.3L445.1,1054.9L445.7,1053.5L446.3,1052.1L446.9,1050.8L447.5,1049.4L448.2,1048.1L448.9,1046.7L449.6,1045.4L450.4,1044.1L451.1,1042.8L451.9,1041.6L452.7,1040.3L453.5,1039.0L454.4,1037.8L455.2,1036.5L456.1,1035.3L456.9,1034.1L457.8,1032.8L458.7,1031.6L459.5,1030.4L460.4,1029.2L461.4,1028.0L462.3,1026.9L463.3,1025.7L464.3,1024.6L465.4,1023.6L466.5,1022.5L467.6,1021.5L468.7,1020.6L469.9,1019.7L471.1,1018.8L472.4,1018.0L473.7,1017.2L475.0,1016.4L476.3,1015.7L477.6,1014.9L478.9,1014.2L480.2,1013.5L481.6,1012.9L482.9,1012.2L484.3,1011.5L485.6,1010.9L487.0,1010.2L488.3,1009.6L489.7,1009.0L491.1,1008.4L492.5,1007.8L493.9,1007.2L495.2,1006.7L496.4,1006.2L496.7,1007.7L497.0,1009.1L497.3,1010.6L497.6,1012.1L497.8,1013.6L498.1,1015.1L498.4,1016.5L498.6,1018.0L498.9,1019.5L499.1,1021.0L499.3,1022.5L499.6,1024.0L499.8,1025.4L500.0,1026.9L500.2,1028.4L500.4,1029.9L500.6,1031.4L500.9,1032.9L501.1,1034.4L501.3,1035.8L501.6,1037.3L501.8,1038.8L502.1,1040.3L502.4,1041.8L502.7,1043.2L503.0,1044.7L503.3,1046.2L503.7,1047.6L504.1,1049.1L504.5,1050.5L505.0,1051.9L505.5,1053.3L506.1,1054.7L506.6,1056.1L507.3,1057.5L508.0,1058.8L508.7,1060.1L509.5,1061.4L510.4,1062.6L511.3,1063.8L512.3,1064.9L513.3,1066.0L514.5,1067.0L515.6,1067.9L516.8,1068.9L518.0,1069.7L519.3,1070.6L520.5,1071.5L521.8,1072.3L523.0,1073.1L524.3,1073.9L525.6,1074.6L526.9,1075.4L528.2,1076.1L529.6,1076.8L530.9,1077.4L532.3,1078.1L533.7,1078.7L535.0,1079.2L536.5,1079.8L537.9,1080.3L539.3,1080.8L540.7,1081.2L542.2,1081.7L543.6,1082.1L545.0,1082.5L546.5,1082.9L548.0,1083.2L549.4,1083.6L550.9,1083.9L552.3,1084.3L553.8,1084.6L555.3,1084.9L556.7,1085.3L558.2,1085.6L559.7,1085.9L561.2,1086.2L562.6,1086.5L564.1,1086.8L565.6,1087.0L567.1,1087.3L568.5,1087.6L570.0,1087.8L571.5,1088.1L573.0,1088.3L574.5,1088.6L575.9,1088.8L577.4,1089.0L578.9,1089.3L580.4,1089.5L581.9,1089.7L583.4,1089.9L584.9,1090.1L586.4,1090.3L587.8,1090.5L589.3,1090.7L590.8,1090.9L592.3,1091.1L593.8,1091.3L595.3,1091.5L596.8,1091.7L598.3,1091.9L599.8,1092.1L601.3,1092.2L602.8,1092.4L604.2,1092.6L605.7,1092.7L607.2,1092.9L608.7,1093.0L610.2,1093.1L611.7,1093.2L613.2,1093.2L614.7,1093.3L616.2,1093.3L617.7,1093.4L619.2,1093.4L620.5,1093.4" stroke="#000000" stroke-width="3.0" fill="none" stroke-linejoin="round" stroke-linecap="round"/>
<path d="M181.1,1044.6L182.5,1045.1L183.9,1045.6L185.3,1046.1L186.7,1046.7L188.1,1047.2L189.5,1047.7L190.9,1048.3L192.3,1048.8L193.7,1049.4L195.1,1050.0L196.5,1050.6L197.9,1051.1L199.2,1051.7L200.6,1052.3L202.0,1053.0L203.4,1053.6L204.7,1054.2L206.1,1054.9L207.4,1055.5L208.8,1056.2L210.1,1056.9L211.4,1057.5L212.8,1058.2L214.1,1059.0L215.4,1059.7L216.7,1060.4L218.0,1061.2L219.3,1061.9L220.6,1062.7L221.9,1063.5L223.1,1064.3L224.4,1065.1L225.6,1065.9L226.9,1066.8L228.1,1067.7L229.3,1068.6L230.5,1069.5L231.7,1070.4L232.8,1071.4L234.0,1072.3L235.1,1073.3L236.2,1074.3L237.3,1075.4L238.4,1076.4L239.4,1077.5L240.4,1078.6L241.4,1079.7L242.4,1080.8L243.4,1082.0L244.4,1083.1L245.3,1084.3L246.3,1085.4L247.2,1086.6L248.1,1087.8L249.1,1089.0L250.0,1090.2L250.9,1091.3L251.8,1092.5L252.7,1093.7L253.7,1094.9L254.6,1096.1L255.4,1097.3L256.3,1098.5L257.2,1099.8L258.0,1101.0L258.9,1102.2L259.7,1103.5L260.5,1104.8L261.3,1106.0L262.1,1107.3L262.9,1108.6L263.7,1109.9L264.5,1111.1L265.2,1112.4L266.0,1113.7L266.8,1115.0L267.5,1116.3L268.3,1117.6L269.0,1118.9L269.8,1120.2L270.5,1121.5L271.2,1122.8L271.9,1124.2L272.6,1125.5L273.3,1126.8L274.0,1128.2L274.6,1129.5L275.3,1130.8L276.0,1132.2L276.6,1133.6L277.2,1134.9L277.8,1136.3L278.5,1137.7L279.1,1139.0L279.6,1140.4L280.2,1141.8L280.8,1143.2L281.4,1144.6L281.9,1146.0L282.5,1147.4L283.0,1148.8L283.6,1150.2L284.1,1151.6L284.6,1153.0L285.2,1154.4L285.7,1155.8L286.2,1157.2L286.7,1158.6L287.2,1160.0L287.8,1161.4L288.3,1162.8L288.7,1164.2L289.2,1165.7L289.7,1167.1L290.2,1168.5L290.6,1169.9L291.1,1171.4L291.5,1172.8L292.0,1174.2L292.4,1175.7L292.8,1177.1L293.2,1178.5L293.7,1180.0L294.1,1181.4L294.5,1182.9L294.9,1184.3L295.4,1185.8L295.8,1187.2L296.2,1188.6L296.7,1190.1L297.1,1191.5L297.5,1192.9L298.0,1194.4L298.4,1195.8L298.9,1197.2L299.3,1198.7L299.7,1200.1L300.2,1201.5L300.6,1203.0L301.0,1204.4L301.4,1205.9L301.8,1207.3L302.2,1208.8L302.5,1210.2L302.9,1211.7L303.3,1213.1L303.6,1214.6L303.9,1216.1L304.3,1217.5L304.6,1219.0L305.0,1220.4L305.3,1221.9L305.7,1223.4L306.0,1224.8L306.4,1226.3L306.8,1227.7L307.1,1229.2L307.5,1230.6L307.9,1232.1L308.2,1233.5L308.6,1235.0L309.0,1236.5L309.3,1237.9L309.7,1239.4L310.1,1240.8L310.4,1242.3L310.8,1243.7L311.1,1245.2L311.5,1246.7L311.8,1248.1L312.2,1249.6L312.6,1251.0L312.9,1252.5L313.3,1253.9L313.7,1255.4L314.1,1256.8L314.5,1258.3L314.9,1259.7L315.3,1261.2L315.7,1262.6L316.2,1264.0L316.6,1265.5L317.0,1266.9L317.5,1268.3L317.9,1269.8L318.4,1271.2L318.8,1272.6L319.3,1274.1L319.7,1275.5L320.1,1276.9L320.6,1278.4L321.0,1279.8L321.4,1281.3L321.8,1282.7L322.3,1284.1L322.7,1285.6L323.1,1287.0L323.5,1288.5L324.0,1289.9L324.4,1291.3L324.8,1292.8L325.3,1294.2L325.7,1295.6L326.1,1297.1L326.6,1298.5L327.0,1299.9L327.5,1301.4L327.9,1302.8L328.3,1304.3L328.8,1305.7L329.2,1307.1L329.6,1308.6L330.0,1310.0L330.5,1311.4L330.9,1312.9L331.3,1314.3L331.7,1315.8L332.1,1317.2L332.5,1318.7L332.9,1320.1L333.4,1321.5L333.8,1323.0L334.2,1324.4L334.7,1325.8L335.1,1327.3L335.6,1328.7L336.1,1330.1L336.6,1331.5L337.1,1332.9L337.7,1334.3L338.4,1335.7L339.2,1336.9L340.1,1338.0L341.3,1338.6L342.5,1338.4L343.6,1337.6L344.5,1336.4L345.2,1335.1L345.9,1333.8L346.5,1332.4L347.0,1331.0L347.5,1329.6L348.0,1328.2L348.5,1326.8L349.0,1325.4L349.4,1323.9L349.8,1322.5L350.2,1321.0L350.6,1319.6L351.0,1318.1L351.4,1316.7L351.7,1315.2L352.1,1313.8L352.4,1312.3L352.8,1310.8L353.1,1309.4L353.4,1307.9L353.8,1306.4L354.1,1305.0L354.5,1303.5L354.8,1302.1L355.1,1300.6L355.5,1299.1L355.8,1297.7L356.1,1296.2L356.5,1294.8L356.8,1293.3L357.1,1291.8L357.5,1290.4L357.8,1288.9L358.1,1287.4L358.4,1286.0L358.8,1284.5L359.1,1283.0L359.4,1281.6L359.7,1280.1L360.0,1278.6L360.3,1277.2L360.7,1275.7L361.0,1274.2L361.3,1272.8L361.6,1271.3L361.9,1269.8L362.2,1268.4L362.5,1266.9L362.9,1265.4L363.2,1264.0L363.5,1262.5L363.8,1261.0L364.1,1259.6L364.4,1258.1L364.8,1256.6L365.1,1255.2L365.4,1253.7L365.7,1252.2L366.1,1250.8L366.4,1249.3L366.8,1247.8L367.1,1246.4L367.4,1244.9L367.8,1243.5L368.2,1242.0L368.5,1240.6L368.9,1239.1L369.3,1237.6L369.6,1236.2L370.0,1234.7L370.4,1233.3L370.8,1231.8L371.2,1230.4L371.5,1228.9L371.9,1227.5L372.3,1226.0L372.7,1224.6L373.1,1223.1L373.5,1221.7L373.9,1220.2L374.3,1218.8L374.7,1217.3L375.1,1215.9L375.4,1214.4L375.8,1213.0L376.2,1211.5L376.6,1210.1L377.0,1208.6L377.4,1207.2L377.8,1205.8L378.2,1204.3L378.6,1202.9L379.0,1201.4L379.4,1200.0L379.8,1198.5L380.3,1197.1L380.7,1195.7L381.2,1194.3L381.7,1192.8L382.2,1191.4L382.6,1190.0L383.1,1188.6L383.6,1187.1L384.1,1185.7L384.5,1184.3L385.0,1182.8L385.4,1181.4L385.8,1180.0L386.2,1178.5L386.6,1177.1L387.1,1175.6L387.5,1174.2L387.9,1172.8L388.3,1171.3L388.8,1169.9L389.2,1168.5L389.7,1167.0L390.2,1165.6L390.6,1164.2L391.1,1162.8L391.6,1161.3L392.1,1159.9L392.6,1158.5L393.1,1157.1L393.5,1155.7L394.0,1154.2L394.5,1152.8L395.0,1151.4L395.5,1150.0L396.0,1148.6L396.5,1147.2L397.0,1145.7L397.5,1144.3L398.0,1142.9L398.5,1141.5L399.0,1140.1L399.5,1138.7L400.0,1137.3L400.5,1135.9L401.1,1134.4L401.6,1133.0L402.1,1131.6L402.6,1130.2L403.1,1128.8L403.7,1127.4L404.2,1126.0L404.7,1124.6L405.2,1123.2L405.7,1121.8L406.3,1120.4L406.8,1119.0L407.3,1117.6L407.8,1116.1L408.3,1114.7L408.8,1113.3L409.2,1111.9L409.7,1110.5L410.2,1109.0L410.7,1107.6L411.2,1106.2L411.7,1104.8L412.2,1103.4L412.7,1102.0L413.2,1100.5L413.7,1099.1L414.2,1097.7L414.8,1096.3L415.3,1094.9L415.9,1093.5L416.5,1092.2L417.1,1090.8L417.7,1089.4L418.3,1088.1L419.0,1086.7L419.7,1085.4L420.4,1084.1L421.1,1082.7L421.8,1081.4L422.6,1080.1L423.3,1078.8L424.1,1077.5L424.9,1076.2L425.6,1075.0L426.4,1073.7L427.3,1072.4L428.1,1071.2L428.9,1069.9L429.8,1068.7L430.7,1067.5L431.6,1066.3L432.6,1065.2L433.5,1064.0L434.6,1062.9L435.6,1061.8L436.7,1060.8L437.7,1059.8L438.8,1058.7L440.0,1057.7L441.1,1056.7L442.2,1055.8L443.4,1054.8L444.6,1053.9L445.7,1052.9L446.9,1052.0L448.1,1051.1L449.3,1050.2L450.5,1049.3L451.7,1048.4L452.9,1047.5L454.2,1046.7L455.4,1045.8L456.7,1045.0L457.9,1044.2L459.2,1043.4L460.5,1042.6L461.7,1041.8L463.0,1041.1L464.3,1040.3L465.7,1039.6L467.0,1038.9L468.3,1038.2L469.6,1037.5L471.0,1036.8L472.3,1036.2L473.7,1035.5L475.1,1034.9L476.4,1034.3L477.8,1033.7L479.2,1033.1L480.6,1032.5L481.9,1031.9L483.3,1031.4L484.7,1030.9L486.2,1030.4L487.6,1029.9L489.0,1029.4L490.4,1028.9L491.8,1028.5L493.3,1028.0L494.7,1027.6L496.2,1027.2L496.4,1027.1L496.8,1028.5L497.2,1030.0L497.7,1031.4L498.1,1032.9L498.6,1034.3L499.0,1035.7L499.5,1037.2L500.0,1038.6L500.4,1040.0L500.9,1041.4L501.5,1042.9L502.0,1044.3L502.5,1045.7L503.1,1047.1L503.6,1048.5L504.2,1049.9L504.8,1051.2L505.4,1052.6L506.0,1054.0L506.7,1055.4L507.3,1056.7L508.1,1058.0L508.8,1059.3L509.6,1060.6L510.5,1061.8L511.4,1063.0L512.5,1064.1L513.6,1065.1L514.7,1066.1L515.9,1067.0L517.1,1067.8L518.4,1068.7L519.6,1069.5L520.9,1070.4L522.1,1071.2L523.4,1072.0L524.7,1072.8L526.0,1073.5L527.3,1074.3L528.6,1075.0L529.9,1075.7L531.3,1076.4L532.7,1077.0L534.0,1077.6L535.4,1078.2L536.8,1078.7L538.2,1079.2L539.7,1079.7L541.1,1080.2L542.5,1080.6L544.0,1081.0L545.4,1081.4L546.9,1081.8L548.4,1082.1L549.8,1082.5L551.3,1082.8L552.8,1083.2L554.2,1083.5L555.7,1083.8L557.2,1084.1L558.6,1084.5L560.1,1084.8L561.6,1085.1L563.1,1085.4L564.5,1085.6L566.0,1085.9L567.5,1086.2L569.0,1086.5L570.5,1086.7L571.9,1087.0L573.4,1087.2L574.9,1087.4L576.4,1087.7L577.9,1087.9L579.4,1088.1L580.9,1088.3L582.4,1088.5L583.9,1088.8L585.3,1089.0L586.8,1089.2L588.3,1089.4L589.8,1089.6L591.3,1089.8L592.8,1090.0L594.3,1090.2L595.8,1090.4L597.3,1090.6L598.8,1090.8L600.2,1091.0L601.7,1091.2L603.2,1091.4L604.7,1091.6L606.2,1091.7L607.7,1091.9L609.2,1092.0L610.7,1092.1L612.2,1092.2L613.7,1092.3L615.2,1092.3L616.7,1092.4L618.2,1092.4L619.7,1092.4L620.5,1092.4" stroke="#700000" stroke-width="3.0" fill="none" stroke-linejoin="round" stroke-linecap="round"/>
<path d="M180.9,1259.6L181.5,1261.0L182.2,1262.3L182.8,1263.7L183.5,1265.0L184.1,1266.4L184.8,1267.7L185.4,1269.1L186.1,1270.4L186.8,1271.8L187.4,1273.1L188.1,1274.5L188.8,1275.8L189.4,1277.2L190.1,1278.5L190.8,1279.8L191.5,1281.2L192.1,1282.5L192.8,1283.9L193.5,1285.2L194.2,1286.5L194.8,1287.9L195.5,1289.2L196.2,1290.6L196.8,1291.9L197.5,1293.3L198.2,1294.6L198.8,1295.9L199.5,1297.3L200.2,1298.6L200.8,1300.0L201.5,1301.3L202.2,1302.7L202.8,1304.0L203.5,1305.4L204.2,1306.7L204.9,1308.0L205.6,1309.4L206.3,1310.7L207.0,1312.0L207.7,1313.3L208.4,1314.7L209.1,1316.0L209.9,1317.3L210.6,1318.6L211.3,1319.9L212.1,1321.2L212.9,1322.5L213.6,1323.8L214.4,1325.1L215.2,1326.4L215.9,1327.6L216.7,1328.9L217.5,1330.2L218.3,1331.5L219.1,1332.7L219.9,1334.0L220.7,1335.3L221.5,1336.5L222.4,1337.8L223.2,1339.0L224.1,1340.2L225.0,1341.5L225.9,1342.7L226.8,1343.8L227.8,1345.0L228.8,1346.1L229.8,1347.2L230.9,1348.2L232.0,1349.2L233.2,1350.1L234.4,1351.0L235.7,1351.8L237.0,1352.6L238.3,1353.3L239.6,1354.0L241.0,1354.5L242.4,1355.0L243.9,1355.4L245.4,1355.5L246.9,1355.5L248.3,1355.3L249.8,1354.9L251.2,1354.4L252.5,1353.7L253.8,1352.9L254.9,1352.0L256.1,1351.0L257.1,1349.9L258.1,1348.8L259.1,1347.7L260.0,1346.5L260.9,1345.3L261.8,1344.1L262.7,1342.8L263.5,1341.6L264.4,1340.4L265.2,1339.1L266.0,1337.8L266.7,1336.5L267.5,1335.2L268.3,1333.9L269.0,1332.6L269.8,1331.3L270.5,1330.0L271.2,1328.7L271.9,1327.4L272.6,1326.1L273.3,1324.7L273.9,1323.4L274.6,1322.0L275.2,1320.7L275.9,1319.3L276.5,1317.9L277.1,1316.5L277.6,1315.2L278.2,1313.8L278.8,1312.4L279.3,1311.0L279.8,1309.6L280.4,1308.2L280.9,1306.8L281.4,1305.4L282.0,1303.9L282.5,1302.5L283.0,1301.1L283.5,1299.7L284.1,1298.3L284.6,1296.9L285.2,1295.5L285.7,1294.1L286.3,1292.7L286.9,1291.4L287.5,1290.0L288.1,1288.6L288.7,1287.2L289.3,1285.9L289.9,1284.5L290.5,1283.1L291.2,1281.8L291.8,1280.4L292.4,1279.0L293.1,1277.7L293.7,1276.3L294.3,1275.0L294.9,1273.6L295.5,1272.2L296.1,1270.8L296.7,1269.5L297.3,1268.1L297.9,1266.7L298.4,1265.3L299.0,1263.9L299.6,1262.5L300.2,1261.1L300.7,1259.7L301.3,1258.4L301.9,1257.0L302.5,1255.6L303.0,1254.2L303.6,1252.8L304.2,1251.4L304.8,1250.1L305.4,1248.7L306.0,1247.3L306.6,1245.9L307.2,1244.6L307.9,1243.2L308.5,1241.8L309.1,1240.5L309.8,1239.1L310.4,1237.8L311.0,1236.4L311.7,1235.0L312.3,1233.7L313.0,1232.3L313.6,1231.0L314.3,1229.6L314.9,1228.3L315.6,1226.9L316.2,1225.6L316.9,1224.2L317.6,1222.9L318.2,1221.5L318.9,1220.2L319.6,1218.9L320.3,1217.5L321.0,1216.2L321.7,1214.9L322.4,1213.5L323.1,1212.2L323.8,1210.9L324.5,1209.6L325.3,1208.3L326.0,1207.0L326.7,1205.7L327.5,1204.4L328.2,1203.1L329.0,1201.8L329.8,1200.5L330.5,1199.2L331.3,1197.9L332.1,1196.6L332.9,1195.3L333.6,1194.0L334.4,1192.8L335.2,1191.5L336.0,1190.2L336.8,1189.0L337.6,1187.7L338.4,1186.4L339.2,1185.1L340.0,1183.9L340.8,1182.6L341.6,1181.3L342.4,1180.1L343.2,1178.8L344.0,1177.5L344.8,1176.2L345.6,1175.0L346.4,1173.7L347.2,1172.4L348.0,1171.2L348.8,1169.9L349.6,1168.6L350.4,1167.3L351.2,1166.0L352.0,1164.8L352.7,1163.5L353.5,1162.2L354.4,1161.0L355.2,1159.7L356.0,1158.4L356.8,1157.2L357.6,1155.9L358.5,1154.7L359.3,1153.5L360.2,1152.2L361.1,1151.0L362.0,1149.8L362.8,1148.6L363.7,1147.4L364.6,1146.2L365.5,1145.0L366.4,1143.8L367.3,1142.6L368.2,1141.4L369.1,1140.2L370.0,1139.0L371.0,1137.8L371.9,1136.6L372.8,1135.4L373.8,1134.3L374.7,1133.1L375.7,1132.0L376.7,1130.8L377.7,1129.7L378.7,1128.6L379.7,1127.5L380.7,1126.4L381.7,1125.3L382.7,1124.2L383.8,1123.1L384.8,1122.0L385.9,1120.9L386.9,1119.9L388.0,1118.8L389.1,1117.8L390.2,1116.7L391.3,1115.7L392.4,1114.7L393.5,1113.7L394.6,1112.7L395.7,1111.7L396.8,1110.7L398.0,1109.7L399.1,1108.7L400.3,1107.8L401.4,1106.8L402.6,1105.9L403.8,1104.9L404.9,1104.0L406.1,1103.1L407.3,1102.1L408.5,1101.2L409.7,1100.3L410.9,1099.4L412.1,1098.5L413.3,1097.6L414.5,1096.7L415.7,1095.9L417.0,1095.0L418.2,1094.1L419.4,1093.3L420.7,1092.5L421.9,1091.7L423.2,1090.9L424.5,1090.1L425.8,1089.3L427.1,1088.6L428.4,1087.8L429.7,1087.1L431.1,1086.4L432.4,1085.8L433.8,1085.1L435.1,1084.5L436.5,1083.8L437.8,1083.2L439.2,1082.6L440.6,1082.0L442.0,1081.5L443.4,1080.9L444.8,1080.3L446.2,1079.8L447.6,1079.2L449.0,1078.7L450.4,1078.2L451.8,1077.7L453.2,1077.2L454.6,1076.7L456.0,1076.2L457.5,1075.7L458.9,1075.2L460.3,1074.7L461.7,1074.2L463.1,1073.8L464.6,1073.3L466.0,1072.8L467.4,1072.4L468.9,1071.9L470.3,1071.5L471.7,1071.0L473.2,1070.6L474.6,1070.1L476.0,1069.7L477.5,1069.3L478.9,1068.8L480.3,1068.4L481.8,1068.0L483.2,1067.5L484.6,1067.1L486.1,1066.7L487.5,1066.2L489.0,1065.8L490.4,1065.4L491.8,1065.0L493.3,1064.5L494.7,1064.1L496.2,1063.7L496.4,1063.6L497.0,1065.1L497.6,1066.5L498.2,1067.8L498.9,1069.2L499.6,1070.5L500.4,1071.8L501.2,1073.0L502.1,1074.2L503.1,1075.4L504.1,1076.5L505.1,1077.6L506.3,1078.6L507.4,1079.5L508.6,1080.5L509.7,1081.5L510.8,1082.5L512.0,1083.4L513.1,1084.4L514.4,1085.2L515.7,1085.9L517.0,1086.6L518.4,1087.2L519.8,1087.9L521.2,1088.4L522.6,1089.0L524.0,1089.5L525.4,1090.1L526.8,1090.6L528.2,1091.1L529.6,1091.5L531.1,1092.0L532.5,1092.4L533.9,1092.9L535.4,1093.3L536.8,1093.7L538.3,1094.0L539.8,1094.4L541.2,1094.7L542.7,1095.0L544.2,1095.3L545.6,1095.6L547.1,1095.9L548.6,1096.2L550.1,1096.5L551.5,1096.7L553.0,1097.0L554.5,1097.3L556.0,1097.5L557.5,1097.8L558.9,1098.1L560.4,1098.3L561.9,1098.6L563.4,1098.9L564.9,1099.1L566.3,1099.4L567.8,1099.6L569.3,1099.9L570.8,1100.2L572.3,1100.4L573.7,1100.7L575.2,1101.0L576.7,1101.2L578.2,1101.5L579.7,1101.7L581.1,1101.9L582.6,1102.1L584.1,1102.4L585.6,1102.6L587.1,1102.8L588.6,1102.9L590.1,1103.1L591.6,1103.3L593.1,1103.4L594.6,1103.6L596.1,1103.7L597.6,1103.9L599.1,1104.0L600.6,1104.1L602.1,1104.2L603.6,1104.4L605.1,1104.5L606.6,1104.6L608.1,1104.7L609.6,1104.8L611.1,1104.9L612.6,1105.0L614.1,1105.1L615.6,1105.2L617.1,1105.3L618.6,1105.4L620.1,1105.5L620.3,1105.5" stroke="#7a7a0a" stroke-width="3.0" fill="none" stroke-linejoin="round" stroke-linecap="round"/>
<path d="M180.5,1275.9L182.0,1275.6L183.5,1275.4L184.9,1275.1L186.4,1274.8L187.9,1274.6L189.4,1274.3L190.8,1274.0L192.3,1273.8L193.8,1273.5L195.3,1273.2L196.8,1273.0L198.2,1272.7L199.7,1272.4L201.2,1272.2L202.7,1271.9L204.2,1271.6L205.6,1271.4L207.1,1271.1L208.6,1270.8L210.1,1270.6L211.5,1270.3L213.0,1270.0L214.5,1269.8L216.0,1269.5L217.5,1269.2L218.9,1269.0L220.4,1268.7L221.9,1268.5L223.4,1268.2L224.9,1267.9L226.3,1267.7L227.8,1267.4L229.3,1267.2L230.8,1266.9L232.3,1266.7L233.7,1266.4L235.2,1266.1L236.7,1265.9L238.2,1265.6L239.7,1265.4L241.1,1265.1L242.6,1264.9L244.1,1264.6L245.6,1264.4L247.1,1264.1L248.5,1263.8L250.0,1263.6L251.5,1263.3L253.0,1263.1L254.5,1262.8L255.9,1262.6L257.4,1262.3L258.9,1262.1L260.4,1261.8L261.9,1261.6L263.4,1261.3L264.8,1261.1L266.3,1260.8L267.8,1260.6L269.3,1260.3L270.8,1260.1L272.2,1259.9L273.7,1259.6L275.2,1259.4L276.7,1259.1L278.2,1258.9L279.6,1258.6L281.1,1258.4L282.6,1258.1L284.1,1257.9L285.6,1257.6L287.1,1257.4L288.5,1257.2L290.0,1256.9L291.5,1256.7L293.0,1256.4L294.5,1256.2L296.0,1256.0L297.4,1255.7L298.9,1255.5L300.4,1255.2L301.9,1255.0L303.4,1254.8L304.9,1254.5L306.3,1254.3L307.8,1254.0L309.3,1253.8L310.8,1253.6L312.3,1253.3L313.8,1253.1L315.2,1252.9L316.7,1252.6L318.2,1252.4L319.7,1252.2L321.2,1251.9L322.7,1251.7L324.1,1251.5L325.6,1251.2L327.1,1251.0L328.6,1250.8L330.1,1250.5L331.6,1250.3L333.0,1250.1L334.5,1249.8L336.0,1249.6L337.5,1249.4L339.0,1249.2L340.5,1248.9L342.0,1248.7L343.4,1248.5L344.9,1248.2L346.4,1248.0L347.9,1247.8L349.4,1247.6L350.9,1247.3L352.4,1247.1L353.8,1246.9L355.3,1246.7L356.8,1246.5L358.3,1246.2L359.8,1246.0L361.3,1245.8L362.8,1245.6L364.2,1245.3L365.7,1245.1L367.2,1244.9L368.7,1244.7L370.2,1244.5L371.7,1244.2L373.2,1244.0L374.6,1243.8L376.1,1243.6L377.6,1243.4L379.1,1243.1L380.6,1242.9L382.1,1242.7L383.6,1242.5L385.0,1242.3L386.5,1242.0L388.0,1241.8L389.5,1241.6L391.0,1241.4L392.5,1241.1L394.0,1240.9L395.4,1240.7L396.9,1240.5L398.4,1240.3L399.9,1240.0L401.4,1239.8L402.9,1239.6L404.3,1239.3L405.8,1239.1L407.3,1238.9L408.8,1238.6L410.3,1238.4L411.8,1238.2L413.3,1238.0L414.7,1237.7L416.2,1237.5L417.7,1237.3L419.2,1237.1L420.7,1236.9L422.2,1236.6L423.7,1236.4L425.1,1236.2L426.6,1236.0L428.1,1235.8L429.6,1235.6L431.1,1235.4L432.6,1235.2L434.1,1235.0L435.6,1234.8L437.1,1234.6L438.5,1234.4L440.0,1234.2L441.5,1234.0L443.0,1233.8L444.5,1233.6L446.0,1233.4L447.5,1233.2L449.0,1233.0L450.4,1232.8L451.9,1232.5L453.4,1232.3L454.9,1232.1L456.4,1231.9L457.9,1231.6L459.4,1231.4L460.8,1231.1L462.3,1230.9L463.8,1230.6L465.3,1230.4L466.8,1230.1L468.2,1229.9L469.7,1229.6L471.2,1229.4L472.7,1229.1L474.2,1228.8L475.6,1228.6L477.1,1228.3L478.6,1228.1L480.1,1227.8L481.6,1227.5L483.0,1227.3L484.5,1227.0L486.0,1226.7L487.5,1226.4L488.9,1226.1L490.4,1225.7L491.8,1225.4L493.3,1225.0L494.8,1224.6L496.2,1224.3L497.7,1223.9L497.9,1223.8L499.3,1224.3L500.8,1224.7L502.2,1225.1L503.7,1225.5L505.1,1225.8L506.6,1226.1L508.1,1226.3L509.6,1226.5L511.1,1226.6L512.6,1226.7L514.1,1226.8L515.6,1226.9L517.1,1227.0L518.6,1227.0L520.1,1227.1L521.6,1227.2L523.1,1227.2L524.6,1227.2L526.1,1227.3L527.6,1227.3L529.1,1227.3L530.6,1227.3L532.1,1227.3L533.6,1227.3L535.1,1227.2L536.6,1227.2L538.1,1227.2L539.6,1227.1L541.1,1227.1L542.7,1227.1L544.2,1227.0L545.7,1227.0L547.2,1226.9L548.7,1226.9L550.2,1226.8L551.7,1226.8L553.2,1226.7L554.7,1226.7L556.2,1226.6L557.7,1226.6L559.2,1226.5L560.7,1226.4L562.2,1226.4L563.7,1226.3L565.2,1226.3L566.7,1226.2L568.2,1226.2L569.7,1226.1L571.2,1226.0L572.7,1226.0L574.2,1225.9L575.7,1225.8L577.2,1225.8L578.7,1225.7L580.2,1225.6L581.7,1225.6L583.2,1225.5L584.7,1225.4L586.2,1225.3L587.7,1225.3L589.2,1225.2L590.7,1225.1L592.2,1225.0L593.7,1224.9L595.2,1224.8L596.7,1224.7L598.2,1224.6L599.7,1224.5L601.2,1224.3L602.7,1224.2L604.2,1224.1L605.7,1224.0L607.2,1223.8L608.7,1223.7L610.2,1223.5L611.7,1223.4L613.2,1223.3L614.7,1223.1L616.2,1223.0L617.7,1222.8L619.2,1222.7L620.7,1222.5" stroke="#e612e6" stroke-width="3.0" fill="none" stroke-linejoin="round" stroke-linecap="round"/>
<path d="M400.8,1290.2 H444.7" stroke="#000000" stroke-width="3.0"/>
<text x="450.3" y="1297.6" font-size="19.5">Ag</text>
<path d="M400.8,1314.4 H444.7" stroke="#700000" stroke-width="3.0"/>
<text x="450.3" y="1321.8" font-size="19.5">Ag + AgMy 1 layer</text>
<path d="M400.8,1338.9 H444.7" stroke="#7a7a0a" stroke-width="3.0"/>
<text x="450.3" y="1346.3" font-size="19.5">Ag + AgMy 2 layers</text>
<path d="M400.8,1362.6 H444.7" stroke="#e612e6" stroke-width="3.0"/>
<text x="450.3" y="1370" font-size="19.5" textLength="170.1" lengthAdjust="spacingAndGlyphs">Ag + AgMy 3 layers</text>
</svg>
</body></html>
